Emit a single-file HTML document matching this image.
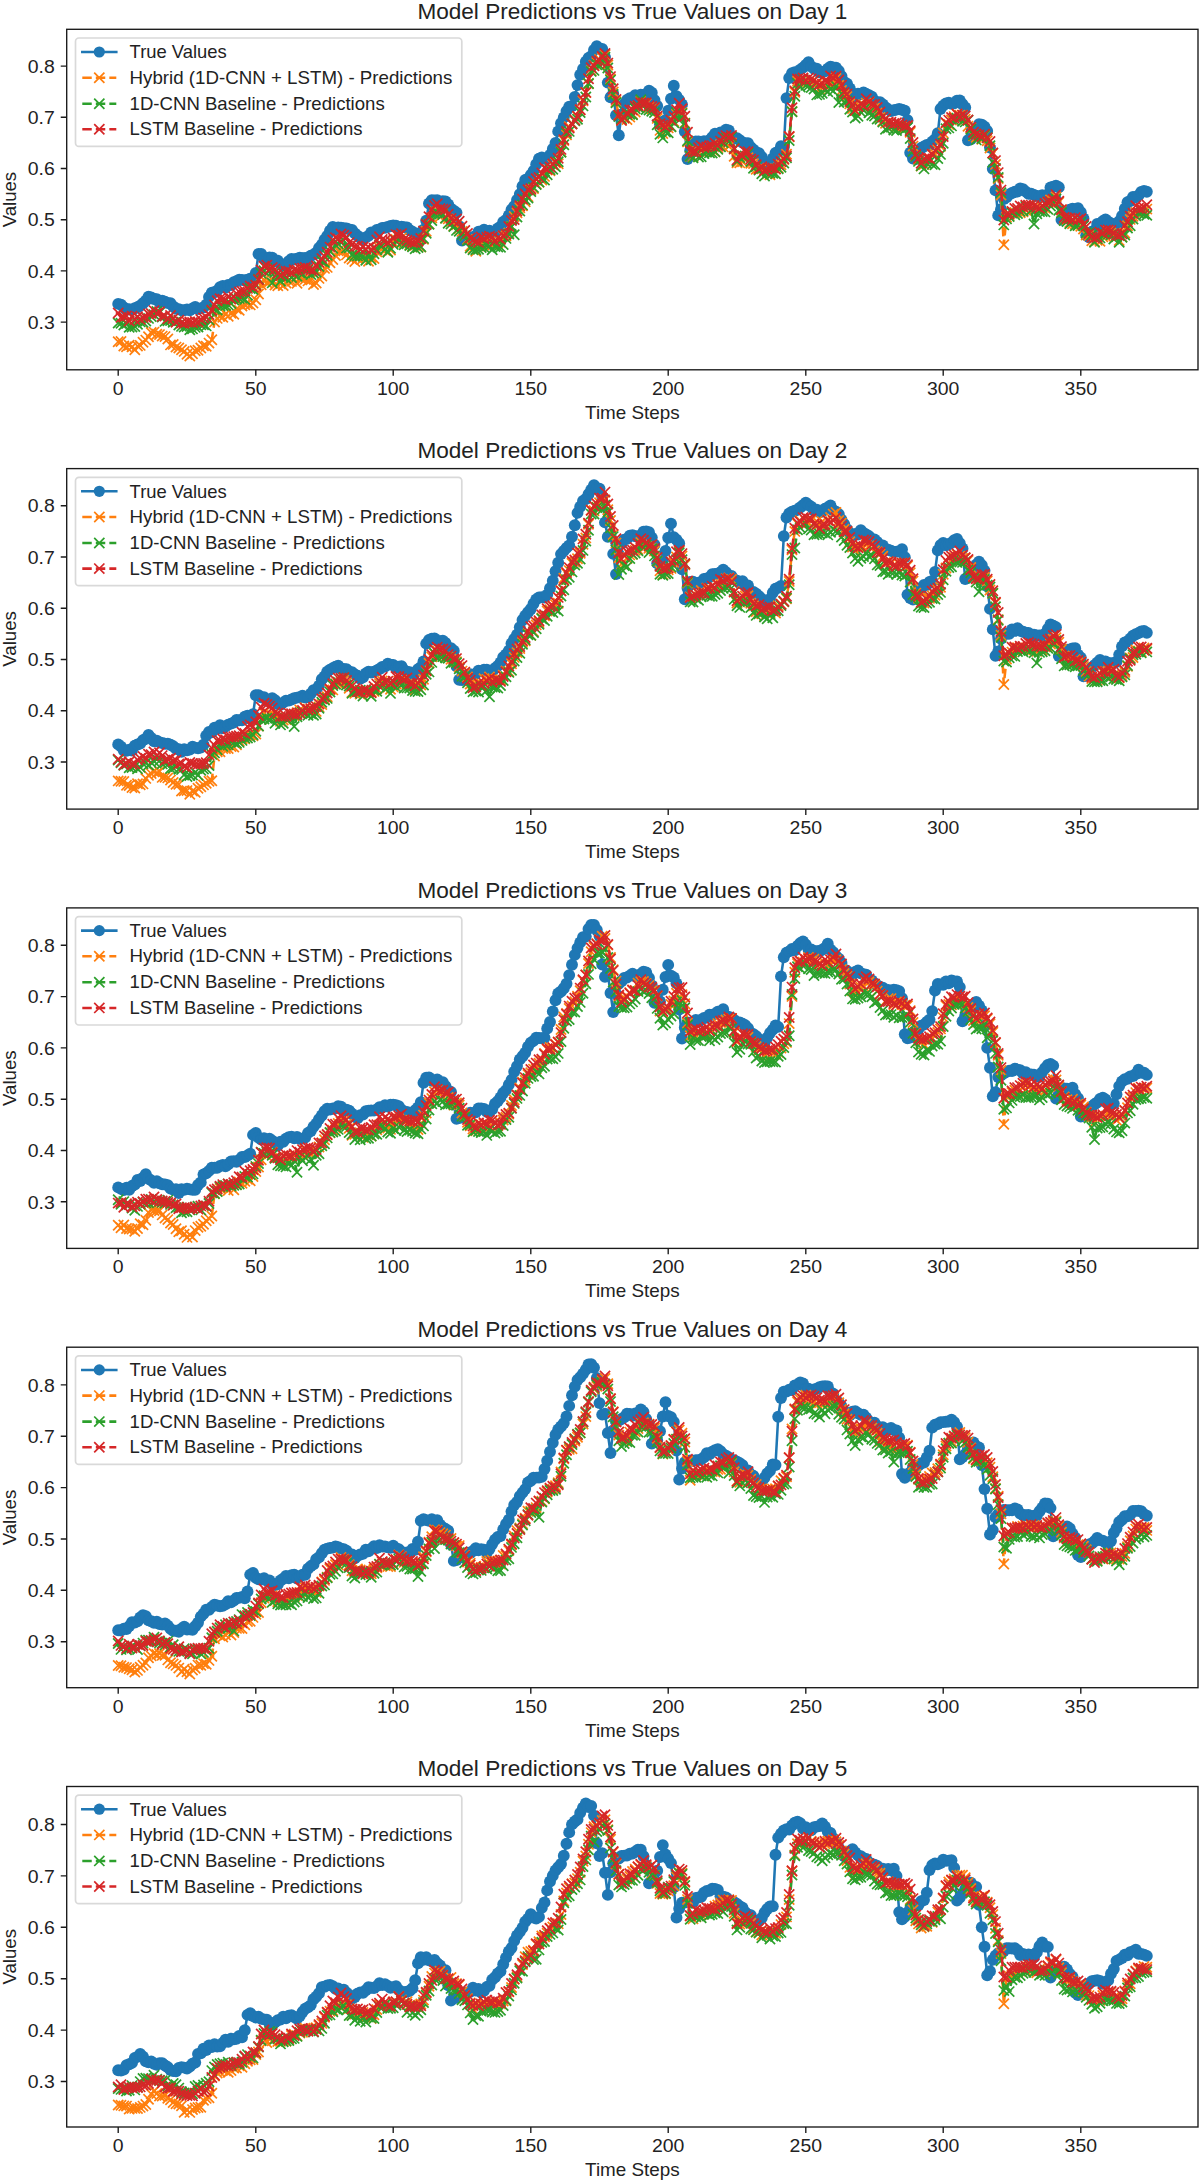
<!DOCTYPE html>
<html><head><meta charset="utf-8"><title>Model Predictions vs True Values</title>
<style>
html,body{margin:0;padding:0;background:#fff;}
svg{display:block;}
text{font-family:"Liberation Sans",sans-serif;fill:#222222;}
</style></head><body>
<svg width="1200" height="2181" viewBox="0 0 1200 2181">
<rect width="1200" height="2181" fill="#fff"/>
<defs>
<marker id="mb" markerUnits="userSpaceOnUse" markerWidth="14" markerHeight="14" refX="7" refY="7" overflow="visible"><circle cx="7" cy="7" r="5.95" fill="#1f77b4"/></marker>
<marker id="mo" markerUnits="userSpaceOnUse" markerWidth="12" markerHeight="12" refX="6" refY="6" overflow="visible"><path d="M0.9,0.9L11.1,11.1M0.9,11.1L11.1,0.9" stroke="#ff7f0e" stroke-width="1.7" fill="none"/></marker>
<marker id="mg" markerUnits="userSpaceOnUse" markerWidth="12" markerHeight="12" refX="6" refY="6" overflow="visible"><path d="M0.9,0.9L11.1,11.1M0.9,11.1L11.1,0.9" stroke="#2ca02c" stroke-width="1.7" fill="none"/></marker>
<marker id="mr" markerUnits="userSpaceOnUse" markerWidth="12" markerHeight="12" refX="6" refY="6" overflow="visible"><path d="M0.9,0.9L11.1,11.1M0.9,11.1L11.1,0.9" stroke="#d62728" stroke-width="1.7" fill="none"/></marker>
</defs>
<g>
<text x="632.4" y="19.1" font-size="21.2" text-anchor="middle" textLength="430.0" lengthAdjust="spacingAndGlyphs">Model Predictions vs True Values on Day 1</text>
<polyline points="118.2,303.9 121,304.6 123.8,307.5 126.5,309.7 129.2,309.3 132,309.7 134.8,308.2 137.5,307.2 140.2,305.8 143,303.2 145.8,300.8 148.5,296.6 151.2,297.5 154,299 156.8,299.3 159.5,302.3 162.2,300.7 165,301.7 167.8,303.1 170.5,303.3 173.2,306.5 176,308.8 178.8,309.1 181.5,310.3 184.2,310.3 187,309.4 189.8,310.3 192.5,308.5 195.2,307 198,309 200.8,308.4 203.5,307.5 206.2,304.6 209,296.9 211.8,292.8 214.5,292.3 217.2,290.8 220,287.3 222.8,285.9 225.5,287.7 228.2,284.9 231,285.1 233.8,282.1 236.5,281.2 239.2,279.7 242,279.9 244.8,280.5 247.5,279.6 250.2,278.6 253,277.7 255.8,273 258.5,254 261.2,253.9 264,257.8 266.8,259.5 269.5,257.5 272.2,257.8 275,261 277.8,260.8 280.5,263.8 283.2,265.5 286,265 288.8,261.1 291.5,259 294.2,259.5 297,258.8 299.8,257.8 302.5,258.2 305.2,258 308,259.6 310.8,255.7 313.5,254.6 316.2,252.8 319,247.9 321.8,244.8 324.5,239.7 327.2,236 330,230.8 332.8,227 335.5,229.2 338.2,227.5 341,227.6 343.8,228.3 346.5,228.4 349.2,229.4 352,230 354.8,233.4 357.5,235.8 360.2,237.8 363,239.9 365.8,237.4 368.5,235.9 371.2,232.4 374,232.9 376.8,230 379.5,229.4 382.2,227.9 385,227.7 387.8,227 390.5,226 393.2,225.5 396,225.6 398.8,228.3 401.5,226.8 404.2,227.3 407,227.5 409.8,230.3 412.5,231.6 415.2,234.3 418,233.8 420.8,232.9 423.5,229.8 426.2,220.7 429,203.5 431.8,200.2 434.5,200.5 437.2,200.2 440,202.3 442.8,201.2 445.5,201.5 448.2,204.5 451,208.8 453.8,210.8 456.5,212.8 459.2,226.2 462,240.5 464.8,238.8 467.5,238.1 470.2,238.5 473,237.3 475.8,235.8 478.5,231.7 481.2,231.7 484,229.6 486.8,232.1 489.5,230.6 492.2,233.4 495,231.6 497.8,228.5 500.5,226.8 503.2,222 506,220 508.8,215.4 511.5,209.8 514.2,206.1 517,200 519.8,194.1 522.5,186.2 525.2,179.9 528,178.7 530.8,174.9 533.5,170.9 536.2,164.2 539,158.6 541.8,157.4 544.5,158.7 547.2,159.1 550,155 552.8,149 555.5,142.9 558.2,131.4 561,123.2 563.8,117.4 566.5,111.1 569.2,106.6 572,106.1 574.8,97 577.5,85.1 580.2,74.8 583,69 585.8,61.7 588.5,57.9 591.2,56.1 594,49.9 596.8,46.1 599.5,48.7 602.2,48.9 605,57.1 607.8,82.6 610.5,97.2 613.2,93.8 616,115.3 618.8,135.2 621.5,114.5 624.2,104 627,100 629.8,98.2 632.5,99.3 635.2,95.2 638,97 640.8,94.8 643.5,94.9 646.2,94.2 649,90.6 651.8,92.8 654.5,100.1 657.2,106 660,124.3 662.8,121.6 665.5,120.2 668.2,110.7 671,98.7 673.8,85.7 676.5,96.2 679.2,99.9 682,104.4 684.8,131.6 687.5,159.1 690.2,150.5 693,142.4 695.8,141.4 698.5,141.5 701.2,143.3 704,141.1 706.8,141.8 709.5,140.3 712.2,137.1 715,133.7 717.8,134.4 720.5,132.5 723.2,133.3 726,129.8 728.8,130.4 731.5,136.1 734.2,138 737,138.2 739.8,140.2 742.5,142.5 745.2,143.1 748,143.3 750.8,147.1 753.5,149.7 756.2,152.3 759,153.3 761.8,156.9 764.5,162.1 767.2,164.6 770,164.6 772.8,158.4 775.5,153 778.2,151.7 781,146.3 783.8,147.3 786.5,98.1 789.2,78 792,73.2 794.8,72.2 797.5,72.1 800.2,69.6 803,67.6 805.8,65 808.5,62.3 811.2,66.5 814,68.9 816.8,68.8 819.5,72.2 822.2,71.9 825,71.4 827.8,68.8 830.5,66.7 833.2,67.5 836,67.8 838.8,71 841.5,76.1 844.2,82 847,83.6 849.8,88.5 852.5,93.4 855.2,97.5 858,93.7 860.8,94.3 863.5,92.5 866.2,94 869,95.2 871.8,96.6 874.5,100.6 877.2,103.1 880,102.3 882.8,104.4 885.5,107.5 888.2,109.4 891,111.1 893.8,110.2 896.5,109.6 899.2,108.9 902,109.7 904.8,110.7 907.5,120.3 910.2,152.8 913,158.5 915.8,159.1 918.5,153.6 921.2,148 924,146.5 926.8,144.9 929.5,145.2 932.2,141.6 935,139.1 937.8,133.3 940.5,109 943.2,105.6 946,103.4 948.8,102.7 951.5,103.9 954.2,103.2 957,100.8 959.8,100.4 962.5,104.2 965.2,107.4 968,140.2 970.8,139.2 973.5,135.9 976.2,128.5 979,124.2 981.8,124.8 984.5,126.8 987.2,131 990,147.5 992.8,168.8 995.5,190.4 998.2,215.4 1001,209.3 1003.8,199 1006.5,197.2 1009.2,194.5 1012,193 1014.8,191.8 1017.5,191.5 1020.2,188.5 1023,189.1 1025.8,191.6 1028.5,193.9 1031.2,193.8 1034,194.9 1036.8,195.9 1039.5,196.5 1042.2,195.3 1045,197.2 1047.8,194.4 1050.5,187.4 1053.2,186.7 1056,185.8 1058.8,187.3 1061.5,219.7 1064.2,215.6 1067,211.8 1069.8,209.6 1072.5,208.6 1075.2,209.5 1078,208.2 1080.8,212.2 1083.5,218.5 1086.2,235.4 1089,237.4 1091.8,231.8 1094.5,230.4 1097.2,224 1100,225.4 1102.8,221.3 1105.5,219.5 1108.2,221.6 1111,223.4 1113.8,224.1 1116.5,226.7 1119.2,221.2 1122,215.9 1124.8,208.8 1127.5,202.2 1130.2,201 1133,196.9 1135.8,197.4 1138.5,195.4 1141.2,192 1144,191 1146.8,191.7" fill="none" stroke="#1f77b4" stroke-width="2.55" stroke-linejoin="round" marker-start="url(#mb)" marker-mid="url(#mb)" marker-end="url(#mb)"/>
<polyline points="118.2,341.7 121,341.5 123.8,346 126.5,346.8 129.2,345.3 132,346.9 134.8,349.8 137.5,346.1 140.2,345.4 143,342.2 145.8,340.1 148.5,336.8 151.2,332.5 154,332.1 156.8,334.2 159.5,334.6 162.2,336.1 165,336.6 167.8,339 170.5,344.9 173.2,344.4 176,347.1 178.8,348 181.5,349.8 184.2,351.4 187,354.3 189.8,356.1 192.5,353.7 195.2,350.8 198,350.2 200.8,348 203.5,345.8 206.2,346.3 209,343.1 211.8,339.8 214.5,322 217.2,318.4 220,316.2 222.8,317.3 225.5,313.9 228.2,316.2 231,313.3 233.8,314.3 236.5,309 239.2,310.3 242,306.1 244.8,304.7 247.5,304 250.2,304.9 253,303.1 255.8,299.8 258.5,294 261.2,284.7 264,279.9 266.8,282.8 269.5,281.8 272.2,280.1 275,285 277.8,285.7 280.5,283.7 283.2,285.5 286,283 288.8,280.9 291.5,281.4 294.2,279.9 297,283.3 299.8,277.9 302.5,278.9 305.2,279.3 308,280.9 310.8,279.9 313.5,284.5 316.2,283.1 319,278.4 321.8,276 324.5,268.4 327.2,267.4 330,262.8 332.8,259.5 335.5,255.6 338.2,250.9 341,251.6 343.8,250.7 346.5,254.9 349.2,258.1 352,259.3 354.8,261.5 357.5,258.2 360.2,256.9 363,258.5 365.8,257.7 368.5,261.2 371.2,257.4 374,258.6 376.8,251.9 379.5,247.7 382.2,248.7 385,250.4 387.8,251.4 390.5,250.1 393.2,242.3 396,239.4 398.8,235.7 401.5,237.9 404.2,242.6 407,242.4 409.8,244.7 412.5,246 415.2,245.2 418,247 420.8,247 423.5,239.3 426.2,231.3 429,224.1 431.8,217.9 434.5,211.3 437.2,211.6 440,216.9 442.8,214.3 445.5,218 448.2,218.9 451,221.4 453.8,226.1 456.5,224.9 459.2,228.6 462,231.4 464.8,235.8 467.5,239.5 470.2,246.3 473,248.4 475.8,251.2 478.5,246 481.2,246.6 484,245.1 486.8,243.9 489.5,241.8 492.2,244.4 495,243.5 497.8,243.3 500.5,242.2 503.2,235.9 506,235.7 508.8,232.9 511.5,226.5 514.2,216.5 517,212.9 519.8,207.8 522.5,205.7 525.2,201.7 528,196.8 530.8,189.9 533.5,188.6 536.2,184 539,182.3 541.8,180 544.5,176.4 547.2,170.1 550,170.8 552.8,164.9 555.5,162.8 558.2,163.7 561,151.9 563.8,140.6 566.5,134.9 569.2,126.8 572,123.4 574.8,120.3 577.5,116.5 580.2,109.8 583,100.9 585.8,92.5 588.5,83.7 591.2,70.8 594,65.3 596.8,62.4 599.5,59.5 602.2,57.5 605,54.7 607.8,65 610.5,78.9 613.2,91.9 616,101.7 618.8,115.1 621.5,120.4 624.2,118.2 627,119.6 629.8,117.1 632.5,114.1 635.2,112 638,106.1 640.8,101.4 643.5,103.5 646.2,103.7 649,107.3 651.8,109.1 654.5,108.1 657.2,118.4 660,130.4 662.8,133.6 665.5,130.7 668.2,127.9 671,126.5 673.8,121.4 676.5,114.3 679.2,112.4 682,112.8 684.8,123.1 687.5,141.7 690.2,156.4 693,156.9 695.8,154.5 698.5,151.5 701.2,150.4 704,151.7 706.8,150.7 709.5,151.2 712.2,149.7 715,151.8 717.8,147.7 720.5,144.7 723.2,146.9 726,143.4 728.8,146.4 731.5,142.9 734.2,156.3 737,162.7 739.8,162.9 742.5,161.7 745.2,159.3 748,157.7 750.8,163.3 753.5,163.6 756.2,169.3 759,168.2 761.8,168.8 764.5,170.5 767.2,173.9 770,174.8 772.8,171.3 775.5,168.8 778.2,168 781,164.7 783.8,159.5 786.5,154.2 789.2,136.8 792,111.5 794.8,92.3 797.5,81.3 800.2,81.4 803,82.8 805.8,82.2 808.5,82.6 811.2,82.5 814,84.2 816.8,83.3 819.5,88.9 822.2,88 825,85.1 827.8,83.8 830.5,84.8 833.2,84.8 836,78.4 838.8,85.2 841.5,90.5 844.2,94.6 847,96.6 849.8,103.9 852.5,108.5 855.2,110.5 858,106.7 860.8,106.7 863.5,104.6 866.2,103.1 869,101.9 871.8,107.9 874.5,108.1 877.2,112.9 880,117.4 882.8,121.1 885.5,123.2 888.2,127.6 891,126.3 893.8,124.7 896.5,127.1 899.2,127.4 902,127.6 904.8,127.7 907.5,126.4 910.2,132.3 913,146.1 915.8,156.1 918.5,159.3 921.2,166 924,164.6 926.8,163.4 929.5,158.6 932.2,154.4 935,153.9 937.8,149.8 940.5,146.2 943.2,133 946,123.1 948.8,124.5 951.5,120 954.2,116.6 957,114.3 959.8,115.3 962.5,115.2 965.2,119.2 968,126.3 970.8,128 973.5,135.7 976.2,137.3 979,136.8 981.8,139.2 984.5,135.5 987.2,140.7 990,148 992.8,153.3 995.5,164.4 998.2,178.6 1001,195 1003.8,244.7 1006.5,217.2 1009.2,215.5 1012,212 1014.8,212.5 1017.5,210.6 1020.2,212.7 1023,211.8 1025.8,210.3 1028.5,207.6 1031.2,210.1 1034,209.5 1036.8,206.7 1039.5,209.3 1042.2,208.3 1045,208.1 1047.8,202.5 1050.5,199.9 1053.2,200.2 1056,196.9 1058.8,202.3 1061.5,210.1 1064.2,220 1067,219.6 1069.8,222.6 1072.5,223.8 1075.2,223.9 1078,225.2 1080.8,226.2 1083.5,229.1 1086.2,235 1089,235.6 1091.8,240.8 1094.5,241.5 1097.2,240.2 1100,241.2 1102.8,236.7 1105.5,236.3 1108.2,231.3 1111,233.2 1113.8,234 1116.5,236.7 1119.2,240.6 1122,237.1 1124.8,233 1127.5,225.7 1130.2,219.4 1133,216.2 1135.8,212.4 1138.5,212.5 1141.2,208.9 1144,210.7 1146.8,209.1" fill="none" stroke="#ff7f0e" stroke-width="2.55" stroke-dasharray="9.44 4.08" stroke-linejoin="round" marker-start="url(#mo)" marker-mid="url(#mo)" marker-end="url(#mo)"/>
<polyline points="118.2,323 121,323.3 123.8,325 126.5,323.4 129.2,327.3 132,327 134.8,326.6 137.5,324.3 140.2,321.9 143,322.2 145.8,321.1 148.5,318.4 151.2,316.5 154,314.6 156.8,311.4 159.5,312.7 162.2,317.1 165,321.4 167.8,320.8 170.5,320.6 173.2,322.3 176,321.6 178.8,325 181.5,326.4 184.2,327.1 187,326.5 189.8,329.8 192.5,328.9 195.2,327.4 198,327 200.8,324.7 203.5,324.8 206.2,325.9 209,319.9 211.8,311.4 214.5,309.2 217.2,310.1 220,306 222.8,305.5 225.5,305.6 228.2,304.9 231,303.6 233.8,300.1 236.5,298.9 239.2,298.4 242,298 244.8,299.4 247.5,295.2 250.2,288.5 253,289.5 255.8,285.1 258.5,279.3 261.2,273.4 264,270.8 266.8,268.4 269.5,271 272.2,282.9 275,272.4 277.8,276.4 280.5,281.2 283.2,277 286,278.2 288.8,274.7 291.5,277.6 294.2,274.6 297,276.3 299.8,272.9 302.5,274 305.2,269.3 308,270 310.8,274.5 313.5,273 316.2,272.2 319,266.5 321.8,261.3 324.5,262.5 327.2,255.3 330,251.4 332.8,248.2 335.5,244.9 338.2,243.7 341,241.8 343.8,240.4 346.5,247.9 349.2,247.8 352,255.1 354.8,255.8 357.5,255.9 360.2,255.7 363,256.2 365.8,260.2 368.5,254.4 371.2,259.7 374,253.7 376.8,249.7 379.5,244.7 382.2,245.8 385,249.2 387.8,252.2 390.5,248.3 393.2,244.4 396,241.4 398.8,240 401.5,242.7 404.2,244.7 407,243.9 409.8,245.5 412.5,246.8 415.2,248.8 418,247.6 420.8,246.7 423.5,238.4 426.2,233.2 429,224.2 431.8,220.6 434.5,213.5 437.2,212.8 440,214 442.8,214.6 445.5,218.2 448.2,223.2 451,224.1 453.8,226.6 456.5,230.4 459.2,231.3 462,234.4 464.8,235.8 467.5,240.5 470.2,248 473,249.7 475.8,249.8 478.5,249.2 481.2,247.6 484,247.4 486.8,245.5 489.5,245.8 492.2,249.7 495,246.5 497.8,247.1 500.5,247.3 503.2,244.6 506,238.4 508.8,234.1 511.5,226.8 514.2,234.8 517,217 519.8,211 522.5,204.9 525.2,199.7 528,198.1 530.8,191.6 533.5,187.4 536.2,184.6 539,182.1 541.8,178.2 544.5,180 547.2,174.8 550,169.7 552.8,169.3 555.5,166.7 558.2,161.7 561,152.2 563.8,144.7 566.5,133.2 569.2,131.4 572,123.7 574.8,120.8 577.5,119.3 580.2,112.6 583,105.9 585.8,97 588.5,83.5 591.2,71.4 594,70.4 596.8,64.8 599.5,65.2 602.2,63.8 605,57.2 607.8,68 610.5,80.1 613.2,94.5 616,102.8 618.8,116.5 621.5,118.8 624.2,117.4 627,114.7 629.8,114.2 632.5,114.7 635.2,108.7 638,107.2 640.8,99.7 643.5,104.6 646.2,109.5 649,110 651.8,111.2 654.5,112.5 657.2,124.8 660,134.2 662.8,137.9 665.5,132.1 668.2,132.7 671,126.7 673.8,122.8 676.5,112.5 679.2,120.1 682,113.6 684.8,123.4 687.5,140.8 690.2,156.1 693,157.9 695.8,154.5 698.5,157.1 701.2,156.7 704,153.5 706.8,152.1 709.5,152.9 712.2,153 715,151.8 717.8,149.3 720.5,146.9 723.2,142.8 726,138.1 728.8,141.8 731.5,136.8 734.2,148.2 737,161.3 739.8,157.8 742.5,156.5 745.2,156 748,153.3 750.8,161.5 753.5,168.2 756.2,166.5 759,170.1 761.8,173.7 764.5,176.1 767.2,171.2 770,173.1 772.8,173.3 775.5,173.8 778.2,168.7 781,167.3 783.8,163 786.5,157.7 789.2,140.5 792,111.7 794.8,96.2 797.5,83.5 800.2,87.1 803,78.8 805.8,85.4 808.5,85.8 811.2,87.5 814,89.1 816.8,94.9 819.5,94.4 822.2,93.2 825,89.8 827.8,91.7 830.5,88.8 833.2,90.9 836,86 838.8,102.5 841.5,93.6 844.2,102 847,101 849.8,109.2 852.5,112 855.2,118 858,116.2 860.8,112 863.5,110.3 866.2,107.1 869,112.7 871.8,115.3 874.5,116.1 877.2,119 880,119.3 882.8,122.1 885.5,129.3 888.2,128.1 891,127 893.8,130 896.5,130.5 899.2,126.5 902,129.1 904.8,129.5 907.5,127.5 910.2,138.6 913,151.2 915.8,156.4 918.5,161.4 921.2,165.7 924,168.9 926.8,163.3 929.5,162 932.2,164.4 935,164.7 937.8,158.6 940.5,154.4 943.2,143.2 946,128.7 948.8,127.9 951.5,125.9 954.2,120.4 957,118.3 959.8,118.7 962.5,121.2 965.2,121.9 968,120.3 970.8,129.3 973.5,135.1 976.2,139.9 979,136.7 981.8,138.5 984.5,135.2 987.2,137.6 990,145.8 992.8,162.2 995.5,168.5 998.2,177.4 1001,192.7 1003.8,224.9 1006.5,218.9 1009.2,216.6 1012,213.1 1014.8,214.7 1017.5,213.5 1020.2,211.4 1023,210.9 1025.8,206.5 1028.5,206.2 1031.2,210.2 1034,224 1036.8,213.8 1039.5,211.6 1042.2,211.5 1045,211.9 1047.8,209.2 1050.5,206 1053.2,203.4 1056,198.9 1058.8,210.2 1061.5,212.8 1064.2,220.5 1067,221.5 1069.8,223.7 1072.5,221 1075.2,225.8 1078,225.6 1080.8,222.3 1083.5,225.8 1086.2,232.8 1089,233 1091.8,234.8 1094.5,242.2 1097.2,238.8 1100,237.9 1102.8,234 1105.5,234.1 1108.2,234.2 1111,234.9 1113.8,239.1 1116.5,236.6 1119.2,242.2 1122,237.2 1124.8,235 1127.5,228 1130.2,225.7 1133,219 1135.8,215.7 1138.5,212.9 1141.2,213 1144,214.3 1146.8,215.2" fill="none" stroke="#2ca02c" stroke-width="2.55" stroke-dasharray="9.44 4.08" stroke-linejoin="round" marker-start="url(#mg)" marker-mid="url(#mg)" marker-end="url(#mg)"/>
<polyline points="118.2,313 121,317.4 123.8,317 126.5,315.9 129.2,321 132,316.3 134.8,319.6 137.5,316.8 140.2,319.2 143,317.4 145.8,317.4 148.5,313.9 151.2,313.4 154,310.6 156.8,313.5 159.5,311.8 162.2,316.4 165,316 167.8,318.7 170.5,315.4 173.2,318.6 176,322.3 178.8,320.3 181.5,323 184.2,323.4 187,322.1 189.8,321.9 192.5,322.5 195.2,321.4 198,322.1 200.8,319.5 203.5,317.9 206.2,317.1 209,314.5 211.8,310.2 214.5,304.9 217.2,300.8 220,298.7 222.8,299.1 225.5,300 228.2,296.6 231,299.1 233.8,296.9 236.5,293.5 239.2,291.9 242,291.2 244.8,291.1 247.5,288.4 250.2,285.9 253,287.1 255.8,285.2 258.5,279.8 261.2,270 264,266.2 266.8,265.1 269.5,269.2 272.2,267.4 275,269.3 277.8,273.3 280.5,275.8 283.2,273.8 286,271.2 288.8,271.2 291.5,272.4 294.2,269.8 297,270 299.8,268.5 302.5,268.2 305.2,267.4 308,268.7 310.8,270.1 313.5,270.4 316.2,265.7 319,262.2 321.8,258.6 324.5,256.3 327.2,252.2 330,247.1 332.8,240.1 335.5,237.6 338.2,239 341,234 343.8,235.3 346.5,237 349.2,242.6 352,244.5 354.8,246.3 357.5,246.2 360.2,249.3 363,247 365.8,248.9 368.5,247.1 371.2,249.8 374,248.2 376.8,240 379.5,236.8 382.2,239.5 385,240.3 387.8,242.5 390.5,241.1 393.2,237.9 396,234.6 398.8,235.3 401.5,233.6 404.2,239.2 407,240.3 409.8,241.4 412.5,242.5 415.2,242.2 418,241.2 420.8,238.5 423.5,231.1 426.2,224.4 429,216.8 431.8,209.4 434.5,205.6 437.2,203.7 440,208.7 442.8,209.1 445.5,209.6 448.2,214.2 451,218.4 453.8,221.1 456.5,219 459.2,221.2 462,226.3 464.8,230.5 467.5,233.4 470.2,237.9 473,240 475.8,241.3 478.5,242.4 481.2,237 484,238.7 486.8,237.3 489.5,236.1 492.2,237.1 495,241.4 497.8,237.6 500.5,239.3 503.2,235.6 506,234.1 508.8,226.4 511.5,220.6 514.2,219.5 517,211 519.8,205.8 522.5,199.1 525.2,193.9 528,189.8 530.8,188.8 533.5,181.6 536.2,178.8 539,177.4 541.8,172.9 544.5,167.7 547.2,169.4 550,167 552.8,164 555.5,161.9 558.2,158.3 561,149.4 563.8,139.6 566.5,131.4 569.2,128 572,124 574.8,119.9 577.5,116.2 580.2,109.7 583,99.7 585.8,92.4 588.5,78.7 591.2,67.8 594,65.9 596.8,61.1 599.5,60.6 602.2,56.5 605,53.5 607.8,63.1 610.5,76.6 613.2,88.8 616,99.4 618.8,115.3 621.5,120.2 624.2,117.8 627,113.3 629.8,109.9 632.5,110 635.2,106.3 638,105.5 640.8,102.7 643.5,103 646.2,102.7 649,105.7 651.8,106.4 654.5,107.5 657.2,116.3 660,123.7 662.8,124.9 665.5,126.8 668.2,125 671,120.1 673.8,116.5 676.5,109.8 679.2,103.3 682,108.8 684.8,116.3 687.5,132.3 690.2,151.1 693,151.7 695.8,151.8 698.5,147.8 701.2,145.8 704,147.6 706.8,146.9 709.5,146 712.2,145.7 715,143.2 717.8,145.5 720.5,141.1 723.2,137.3 726,135.6 728.8,137.2 731.5,135.4 734.2,149 737,159.9 739.8,154.4 742.5,155.7 745.2,151.4 748,151.8 750.8,159 753.5,160.1 756.2,164.7 759,168.9 761.8,166.7 764.5,170.8 767.2,169.1 770,168 772.8,167.9 775.5,169.1 778.2,164.3 781,161.7 783.8,158.8 786.5,156.3 789.2,136.4 792,107.8 794.8,90.9 797.5,79 800.2,79.2 803,78 805.8,80.4 808.5,78.1 811.2,79 814,80.3 816.8,82.7 819.5,84.8 822.2,84.1 825,80.5 827.8,81.2 830.5,75.9 833.2,77.8 836,76.2 838.8,80 841.5,85.3 844.2,92.4 847,94 849.8,101.6 852.5,105.3 855.2,110.4 858,106.5 860.8,104.1 863.5,105.7 866.2,98.8 869,101.7 871.8,104.5 874.5,104.5 877.2,107.5 880,112 882.8,117.1 885.5,118.9 888.2,122.1 891,122.2 893.8,123.5 896.5,122.7 899.2,123.4 902,124.9 904.8,125.9 907.5,125.5 910.2,130.8 913,142.5 915.8,154.5 918.5,158.2 921.2,163.2 924,159 926.8,157.5 929.5,158.5 932.2,154.2 935,150.5 937.8,148.1 940.5,144.1 943.2,136.6 946,122.6 948.8,120.1 951.5,117.4 954.2,118 957,114 959.8,116.4 962.5,115.1 965.2,116 968,120 970.8,127.2 973.5,132.3 976.2,134 979,135 981.8,136.6 984.5,134.1 987.2,137.9 990,141.5 992.8,152.9 995.5,160.6 998.2,172.6 1001,190.1 1003.8,220.1 1006.5,214.1 1009.2,213.9 1012,211.4 1014.8,208.5 1017.5,208.4 1020.2,206 1023,206.9 1025.8,205.2 1028.5,205.2 1031.2,205.1 1034,205.6 1036.8,206.9 1039.5,208.3 1042.2,205.9 1045,203.5 1047.8,201.9 1050.5,201.6 1053.2,199.2 1056,194.6 1058.8,201.3 1061.5,209.6 1064.2,217.4 1067,218.5 1069.8,218.3 1072.5,219.5 1075.2,217.7 1078,219.8 1080.8,218.8 1083.5,224.2 1086.2,226.4 1089,233.6 1091.8,237.1 1094.5,237.9 1097.2,237.3 1100,232.1 1102.8,233.3 1105.5,230.1 1108.2,230 1111,230.5 1113.8,233.8 1116.5,235.1 1119.2,235.5 1122,233.9 1124.8,225.6 1127.5,221.7 1130.2,216.2 1133,213.3 1135.8,205.8 1138.5,208.3 1141.2,208.4 1144,207.8 1146.8,204.8" fill="none" stroke="#d62728" stroke-width="2.55" stroke-dasharray="9.44 4.08" stroke-linejoin="round" marker-start="url(#mr)" marker-mid="url(#mr)" marker-end="url(#mr)"/>
<rect x="66.7" y="29.3" width="1131.3" height="340.5" fill="none" stroke="#1a1a1a" stroke-width="1.36"/>
<text x="118.2" y="394.8" font-size="18.0" text-anchor="middle" textLength="10.8" lengthAdjust="spacingAndGlyphs">0</text>
<text x="255.8" y="394.8" font-size="18.0" text-anchor="middle" textLength="21.6" lengthAdjust="spacingAndGlyphs">50</text>
<text x="393.2" y="394.8" font-size="18.0" text-anchor="middle" textLength="32.4" lengthAdjust="spacingAndGlyphs">100</text>
<text x="530.8" y="394.8" font-size="18.0" text-anchor="middle" textLength="32.4" lengthAdjust="spacingAndGlyphs">150</text>
<text x="668.2" y="394.8" font-size="18.0" text-anchor="middle" textLength="32.4" lengthAdjust="spacingAndGlyphs">200</text>
<text x="805.8" y="394.8" font-size="18.0" text-anchor="middle" textLength="32.4" lengthAdjust="spacingAndGlyphs">250</text>
<text x="943.2" y="394.8" font-size="18.0" text-anchor="middle" textLength="32.4" lengthAdjust="spacingAndGlyphs">300</text>
<text x="1080.8" y="394.8" font-size="18.0" text-anchor="middle" textLength="32.4" lengthAdjust="spacingAndGlyphs">350</text>
<text x="54.8" y="72.8" font-size="18.0" text-anchor="end" textLength="27.0" lengthAdjust="spacingAndGlyphs">0.8</text>
<text x="54.8" y="124" font-size="18.0" text-anchor="end" textLength="27.0" lengthAdjust="spacingAndGlyphs">0.7</text>
<text x="54.8" y="175.2" font-size="18.0" text-anchor="end" textLength="27.0" lengthAdjust="spacingAndGlyphs">0.6</text>
<text x="54.8" y="226.4" font-size="18.0" text-anchor="end" textLength="27.0" lengthAdjust="spacingAndGlyphs">0.5</text>
<text x="54.8" y="277.6" font-size="18.0" text-anchor="end" textLength="27.0" lengthAdjust="spacingAndGlyphs">0.4</text>
<text x="54.8" y="328.8" font-size="18.0" text-anchor="end" textLength="27.0" lengthAdjust="spacingAndGlyphs">0.3</text>
<path d="M118.2,369.8v5.95M255.8,369.8v5.95M393.2,369.8v5.95M530.8,369.8v5.95M668.2,369.8v5.95M805.8,369.8v5.95M943.2,369.8v5.95M1080.8,369.8v5.95M66.7,66.1h-5.95M66.7,117.3h-5.95M66.7,168.5h-5.95M66.7,219.7h-5.95M66.7,270.9h-5.95M66.7,322.1h-5.95" stroke="#1a1a1a" stroke-width="1.36" fill="none"/>
<text x="632.4" y="418.8" font-size="17.8" text-anchor="middle" textLength="94.6" lengthAdjust="spacingAndGlyphs">Time Steps</text>
<text x="16" y="199.6" font-size="17.8" text-anchor="middle" textLength="55.5" lengthAdjust="spacingAndGlyphs" transform="rotate(-90 16 199.6)">Values</text>
<rect x="75.5" y="38" width="386.3" height="108.4" rx="3.4" fill="#fff" fill-opacity="0.8" stroke="#d9d9d9" stroke-width="1.7"/>
<path d="M82.3,52H116.3" stroke="#1f77b4" stroke-width="2.55" stroke-linecap="square"/>
<circle cx="99.3" cy="52" r="5.6" fill="#1f77b4"/>
<text x="129.6" y="58.3" font-size="17.8" textLength="97.1" lengthAdjust="spacingAndGlyphs">True Values</text>
<path d="M82.3,77.7H116.3" stroke="#ff7f0e" stroke-width="2.55" stroke-dasharray="9.44 4.08"/>
<path d="M94.2,72.6l10.2,10.2m0,-10.2l-10.2,10.2" stroke="#ff7f0e" stroke-width="1.7"/>
<text x="129.6" y="83.7" font-size="17.8" textLength="322.8" lengthAdjust="spacingAndGlyphs">Hybrid (1D-CNN + LSTM) - Predictions</text>
<path d="M82.3,103.7H116.3" stroke="#2ca02c" stroke-width="2.55" stroke-dasharray="9.44 4.08"/>
<path d="M94.2,98.6l10.2,10.2m0,-10.2l-10.2,10.2" stroke="#2ca02c" stroke-width="1.7"/>
<text x="129.6" y="109.7" font-size="17.8" textLength="255.1" lengthAdjust="spacingAndGlyphs">1D-CNN Baseline - Predictions</text>
<path d="M82.3,129.3H116.3" stroke="#d62728" stroke-width="2.55" stroke-dasharray="9.44 4.08"/>
<path d="M94.2,124.2l10.2,10.2m0,-10.2l-10.2,10.2" stroke="#d62728" stroke-width="1.7"/>
<text x="129.6" y="135.3" font-size="17.8" textLength="233.0" lengthAdjust="spacingAndGlyphs">LSTM Baseline - Predictions</text>
</g>
<g>
<text x="632.4" y="458.4" font-size="21.2" text-anchor="middle" textLength="430.0" lengthAdjust="spacingAndGlyphs">Model Predictions vs True Values on Day 2</text>
<polyline points="118.2,744.4 121,746.6 123.8,750.5 126.5,750.7 129.2,749.8 132,750.5 134.8,745.8 137.5,744.5 140.2,743.5 143,740.1 145.8,738.7 148.5,735 151.2,738 154,741.3 156.8,740.7 159.5,742.4 162.2,743 165,743.8 167.8,743.6 170.5,744.7 173.2,746.3 176,748.8 178.8,749.3 181.5,751.8 184.2,749.3 187,750.2 189.8,749.6 192.5,746.8 195.2,747.6 198,748.4 200.8,747.5 203.5,744.7 206.2,735.6 209,732 211.8,732.3 214.5,727.6 217.2,728.9 220,725.2 222.8,728.3 225.5,726.5 228.2,724.6 231,723.6 233.8,722.5 236.5,719.9 239.2,720.3 242,720.4 244.8,716.8 247.5,715.8 250.2,718.8 253,714.1 255.8,695.3 258.5,695.2 261.2,697.3 264,697.1 266.8,700.5 269.5,700.5 272.2,698.3 275,700.2 277.8,704 280.5,704.7 283.2,702.6 286,700.6 288.8,700.6 291.5,699.5 294.2,698.3 297,697.6 299.8,697.2 302.5,695.7 305.2,697.5 308,697.4 310.8,693.6 313.5,690.2 316.2,689.4 319,685.7 321.8,679.2 324.5,676.5 327.2,671.8 330,669.6 332.8,668.1 335.5,666.7 338.2,665.7 341,668.7 343.8,668.9 346.5,669.2 349.2,671.6 352,672.3 354.8,674.4 357.5,675.8 360.2,678.7 363,677.2 365.8,673.4 368.5,671.7 371.2,672.5 374,671.7 376.8,670.4 379.5,669 382.2,667 385,666.5 387.8,663.7 390.5,664.6 393.2,664.9 396,668.1 398.8,666.6 401.5,666.1 404.2,670.3 407,671.6 409.8,672.1 412.5,676.3 415.2,672.5 418,669.2 420.8,667.3 423.5,661.4 426.2,643.6 429,640 431.8,638.6 434.5,638.4 437.2,640.9 440,641.3 442.8,640.6 445.5,643 448.2,647.7 451,648.3 453.8,650.8 456.5,666.2 459.2,679.7 462,680.1 464.8,677.9 467.5,674.9 470.2,674.1 473,675 475.8,673.7 478.5,670.6 481.2,670.9 484,669.7 486.8,669.6 489.5,671.3 492.2,671.8 495,668.3 497.8,665.9 500.5,662.5 503.2,657.1 506,654.5 508.8,650.8 511.5,643.5 514.2,639 517,634.7 519.8,627.2 522.5,620 525.2,615.7 528,612.3 530.8,609 533.5,603.8 536.2,599.4 539,597.5 541.8,597.2 544.5,597.5 547.2,594.8 550,588.2 552.8,580.7 555.5,571.2 558.2,562.8 561,554.1 563.8,550.9 566.5,547.9 569.2,545.4 572,536.8 574.8,525.2 577.5,512.9 580.2,506.8 583,501 585.8,499 588.5,494.3 591.2,489.7 594,485.2 596.8,488.3 599.5,488.6 602.2,496.1 605,522.4 607.8,536.7 610.5,535 613.2,553.9 616,574.1 618.8,554.3 621.5,543.5 624.2,539.6 627,538.9 629.8,535.8 632.5,535.1 635.2,536.2 638,536.1 640.8,536.6 643.5,531.6 646.2,531.4 649,532.3 651.8,537.6 654.5,544.7 657.2,563.2 660,562.5 662.8,560.6 665.5,550.9 668.2,537.8 671,523.6 673.8,537.3 676.5,539.8 679.2,543.2 682,569.4 684.8,599.2 687.5,588 690.2,582 693,581.7 695.8,583.4 698.5,582.7 701.2,582.9 704,578.9 706.8,578.5 709.5,577.4 712.2,574.1 715,573.9 717.8,573.7 720.5,572.3 723.2,569.8 726,572.2 728.8,577.4 731.5,575.9 734.2,579.4 737,580.7 739.8,583 742.5,581.1 745.2,585.7 748,585.5 750.8,591.4 753.5,591.9 756.2,593.6 759,596.2 761.8,599 764.5,602.9 767.2,603.8 770,598.9 772.8,592.7 775.5,588.8 778.2,587.8 781,586 783.8,536.1 786.5,517.5 789.2,513.5 792,511.7 794.8,510.7 797.5,509.7 800.2,507.5 803,505.3 805.8,502.6 808.5,505 811.2,506.7 814,510.5 816.8,509.8 819.5,512.3 822.2,511.5 825,508.8 827.8,507.5 830.5,505.4 833.2,510.3 836,511.8 838.8,514.1 841.5,519.6 844.2,524.1 847,529.2 849.8,533.2 852.5,535.3 855.2,533.9 858,534.5 860.8,530.3 863.5,532.9 866.2,534.5 869,536.3 871.8,539.1 874.5,539.4 877.2,542 880,545.4 882.8,545.5 885.5,549.6 888.2,549.7 891,550.7 893.8,551.9 896.5,551.6 899.2,551.5 902,549.3 904.8,557.2 907.5,594.6 910.2,598 913,599.6 915.8,594.2 918.5,588.7 921.2,589 924,585 926.8,585.1 929.5,582 932.2,581 935,571.9 937.8,550.4 940.5,545.2 943.2,543 946,545.3 948.8,544.2 951.5,542.8 954.2,540.1 957,539 959.8,543.2 962.5,548.5 965.2,579 968,577.9 970.8,575.6 973.5,570 976.2,564.6 979,561.8 981.8,565.1 984.5,570.7 987.2,586 990,608.9 992.8,629.4 995.5,655.9 998.2,651.5 1001,638.8 1003.8,634.1 1006.5,633.8 1009.2,633.8 1012,629.4 1014.8,630.9 1017.5,628.1 1020.2,630.8 1023,631.7 1025.8,632.7 1028.5,633 1031.2,636.3 1034,634.7 1036.8,635.4 1039.5,635.5 1042.2,636.7 1045,633.8 1047.8,629 1050.5,624.4 1053.2,625.6 1056,627.2 1058.8,656.1 1061.5,653 1064.2,651.9 1067,649.8 1069.8,649.5 1072.5,648.4 1075.2,648.3 1078,654.7 1080.8,657.8 1083.5,676.2 1086.2,675.5 1089,673.4 1091.8,667.4 1094.5,665.2 1097.2,662.6 1100,660 1102.8,661.7 1105.5,661.4 1108.2,663.1 1111,663.3 1113.8,663.1 1116.5,661.8 1119.2,654.6 1122,646.4 1124.8,642.5 1127.5,641.5 1130.2,638.8 1133,635.8 1135.8,634.2 1138.5,633.1 1141.2,631.5 1144,631 1146.8,632.7" fill="none" stroke="#1f77b4" stroke-width="2.55" stroke-linejoin="round" marker-start="url(#mb)" marker-mid="url(#mb)" marker-end="url(#mb)"/>
<polyline points="118.2,780.9 121,781.2 123.8,781.4 126.5,785.3 129.2,785.5 132,787.6 134.8,788 137.5,783.8 140.2,784.7 143,783.9 145.8,778.4 148.5,775.2 151.2,773.6 154,771.8 156.8,772.9 159.5,771.5 162.2,777.4 165,777.2 167.8,777.9 170.5,780.1 173.2,782.5 176,784.3 178.8,784.2 181.5,791.1 184.2,790.7 187,790.6 189.8,794.3 192.5,791 195.2,792.3 198,788.3 200.8,786.7 203.5,784.9 206.2,783.3 209,781.2 211.8,780.7 214.5,756 217.2,751.7 220,751.7 222.8,748.6 225.5,748.5 228.2,748.6 231,746.6 233.8,747.1 236.5,744.8 239.2,740.9 242,738.7 244.8,738.9 247.5,735.6 250.2,735.1 253,735.7 255.8,734 258.5,726.1 261.2,719.4 264,712.7 266.8,716.6 269.5,713.9 272.2,715.6 275,715.5 277.8,716.9 280.5,721.3 283.2,720.1 286,719.5 288.8,718.2 291.5,715.2 294.2,715.8 297,712.8 299.8,709.9 302.5,712.4 305.2,707.6 308,709.3 310.8,711.2 313.5,710.4 316.2,711.4 319,706.9 321.8,704.6 324.5,699.3 327.2,696.8 330,689.9 332.8,689.9 335.5,683.8 338.2,683.8 341,681.9 343.8,680.3 346.5,682.7 349.2,688.2 352,692.4 354.8,693.2 357.5,690.1 360.2,694 363,691.5 365.8,691.9 368.5,693.6 371.2,692 374,691.4 376.8,688.8 379.5,683.5 382.2,681 385,682.8 387.8,687.2 390.5,689.2 393.2,686.9 396,684.1 398.8,681 401.5,680 404.2,683.1 407,684.2 409.8,684.6 412.5,686.3 415.2,689.7 418,686.8 420.8,685.1 423.5,679.3 426.2,670.9 429,663.3 431.8,656.9 434.5,653.8 437.2,650.8 440,654.9 442.8,656.4 445.5,656.7 448.2,657.3 451,659.2 453.8,660.3 456.5,661.7 459.2,667.1 462,671.1 464.8,673.6 467.5,677 470.2,684 473,684.6 475.8,684.6 478.5,684.4 481.2,683.8 484,678.7 486.8,679.5 489.5,677 492.2,679.7 495,679.6 497.8,678.9 500.5,680 503.2,675.3 506,670.9 508.8,671.5 511.5,663.7 514.2,657.4 517,652.6 519.8,648.6 522.5,642.4 525.2,640.7 528,633.8 530.8,635.2 533.5,631.6 536.2,624.9 539,622.5 541.8,617.9 544.5,615.8 547.2,611 550,609.8 552.8,606.4 555.5,604.8 558.2,603.2 561,590.7 563.8,578.2 566.5,573.5 569.2,570.6 572,563.3 574.8,562 577.5,558.8 580.2,553.2 583,544.3 585.8,537.9 588.5,524.2 591.2,510.3 594,510.8 596.8,507.2 599.5,502.8 602.2,501.5 605,499.9 607.8,509.8 610.5,520.5 613.2,534.6 616,542.9 618.8,557.7 621.5,563.9 624.2,564.1 627,558.5 629.8,554.9 632.5,554.3 635.2,550.4 638,549.4 640.8,542.4 643.5,545.3 646.2,546 649,548.2 651.8,548.2 654.5,551 657.2,561.1 660,570.7 662.8,574.6 665.5,573.7 668.2,569.7 671,568.4 673.8,562.4 676.5,556.9 679.2,551.3 682,556 684.8,564.9 687.5,583 690.2,597 693,596.6 695.8,595.1 698.5,593.3 701.2,590.5 704,592.5 706.8,588.1 709.5,588.6 712.2,589.9 715,588.3 717.8,585.3 720.5,584.2 723.2,583.4 726,578.8 728.8,578 731.5,579.4 734.2,591.5 737,603.1 739.8,602 742.5,601.7 745.2,595.9 748,595.7 750.8,603.3 753.5,605.8 756.2,611.5 759,611.9 761.8,613.9 764.5,616.3 767.2,613 770,612.9 772.8,610.8 775.5,613 778.2,605.8 781,604.3 783.8,601.7 786.5,598.7 789.2,581.4 792,549.9 794.8,531.4 797.5,523.8 800.2,520.8 803,523.9 805.8,521.1 808.5,522.6 811.2,520.5 814,523.5 816.8,521.6 819.5,524 822.2,521.7 825,524 827.8,520 830.5,517.5 833.2,514.1 836,512.5 838.8,520.5 841.5,522.9 844.2,529.3 847,531.8 849.8,541.8 852.5,547.1 855.2,550.8 858,546.9 860.8,548.3 863.5,547.1 866.2,544.8 869,545.9 871.8,548.6 874.5,550.8 877.2,551.8 880,554 882.8,556.2 885.5,562.5 888.2,561.7 891,563.3 893.8,565.1 896.5,566.1 899.2,564.1 902,563.1 904.8,563 907.5,565.9 910.2,572.7 913,580.9 915.8,593.1 918.5,598.2 921.2,602.9 924,603.1 926.8,597.3 929.5,598.3 932.2,595.8 935,595.3 937.8,589.7 940.5,587.3 943.2,574.2 946,568 948.8,563.8 951.5,559.8 954.2,557.7 957,554.5 959.8,556.3 962.5,558.3 965.2,558 968,560.6 970.8,567.4 973.5,576.1 976.2,577.9 979,577.9 981.8,577.8 984.5,577.2 987.2,581 990,590 992.8,593.4 995.5,602.9 998.2,619.6 1001,635.2 1003.8,684.5 1006.5,659.1 1009.2,653.4 1012,652.1 1014.8,648.1 1017.5,647.7 1020.2,647.8 1023,649.9 1025.8,649.4 1028.5,646.7 1031.2,648.8 1034,649.8 1036.8,651.3 1039.5,648.6 1042.2,650.2 1045,646.9 1047.8,646 1050.5,644 1053.2,639.3 1056,637.8 1058.8,642.2 1061.5,649.2 1064.2,655.9 1067,660.2 1069.8,661.8 1072.5,663.4 1075.2,659.7 1078,662.9 1080.8,661.9 1083.5,666.6 1086.2,671.6 1089,676 1091.8,678.5 1094.5,678.7 1097.2,680.4 1100,679 1102.8,671.9 1105.5,671.5 1108.2,671.1 1111,671 1113.8,675.8 1116.5,678.6 1119.2,677.9 1122,675.8 1124.8,672.3 1127.5,666.2 1130.2,657.9 1133,657.5 1135.8,649.9 1138.5,650.9 1141.2,651.7 1144,647.9 1146.8,649.1" fill="none" stroke="#ff7f0e" stroke-width="2.55" stroke-dasharray="9.44 4.08" stroke-linejoin="round" marker-start="url(#mo)" marker-mid="url(#mo)" marker-end="url(#mo)"/>
<polyline points="118.2,760 121,762.8 123.8,765.3 126.5,764.1 129.2,767.7 132,767.6 134.8,766.3 137.5,768.7 140.2,767.4 143,763.7 145.8,763 148.5,765 151.2,762.7 154,761.2 156.8,759.1 159.5,760.7 162.2,763.9 165,762.9 167.8,764.4 170.5,768.5 173.2,768.1 176,766.5 178.8,769.2 181.5,769.6 184.2,774.7 187,776.6 189.8,775.5 192.5,775.1 195.2,772.3 198,775.3 200.8,770.2 203.5,769.1 206.2,768.6 209,765.5 211.8,754.4 214.5,752.9 217.2,749.8 220,743.3 222.8,746.3 225.5,744.7 228.2,744.9 231,741.7 233.8,742.4 236.5,743.2 239.2,742.4 242,740.4 244.8,738 247.5,738 250.2,737 253,734.8 255.8,731.2 258.5,726.1 261.2,719.3 264,719 266.8,718.3 269.5,719.6 272.2,717.7 275,723.2 277.8,719.9 280.5,724.9 283.2,723.2 286,718.7 288.8,718.6 291.5,716.9 294.2,726.5 297,716.8 299.8,712.7 302.5,712 305.2,713.4 308,715.2 310.8,713.7 313.5,715.3 316.2,714.1 319,708.2 321.8,702.2 324.5,700.1 327.2,698.4 330,692.1 332.8,685.6 335.5,684.2 338.2,682.1 341,678.6 343.8,677.7 346.5,685 349.2,686 352,693.2 354.8,691.6 357.5,691.2 360.2,690.3 363,696 365.8,692.1 368.5,691.3 371.2,696.2 374,690 376.8,691.2 379.5,686.3 382.2,683.8 385,689.1 387.8,686.1 390.5,693.4 393.2,684.4 396,687.1 398.8,683.4 401.5,684.8 404.2,688.1 407,687.9 409.8,688.1 412.5,690.6 415.2,691.4 418,691.6 420.8,689.7 423.5,685 426.2,674.2 429,671.9 431.8,662.4 434.5,653.2 437.2,657.9 440,656.2 442.8,656.6 445.5,657.8 448.2,658.3 451,663.2 453.8,662.2 456.5,662.8 459.2,668.8 462,676.2 464.8,676.7 467.5,682.7 470.2,688.5 473,691.8 475.8,691.1 478.5,692.1 481.2,687.2 484,686.2 486.8,690.3 489.5,696.8 492.2,687 495,687.6 497.8,688 500.5,685.5 503.2,680.5 506,676.8 508.8,672.4 511.5,670.3 514.2,661 517,657.6 519.8,653.3 522.5,644.2 525.2,639.7 528,634.8 530.8,635.2 533.5,632.5 536.2,628.8 539,624.3 541.8,618.8 544.5,620.6 547.2,616.2 550,611.2 552.8,612.6 555.5,609.2 558.2,611.1 561,596.1 563.8,589.7 566.5,579.6 569.2,577.2 572,571.9 574.8,565.1 577.5,563.2 580.2,559.1 583,550.4 585.8,541 588.5,530.3 591.2,514.1 594,514 596.8,507.6 599.5,507.6 602.2,509.5 605,505.1 607.8,512.3 610.5,527.7 613.2,536.6 616,550.1 618.8,574.6 621.5,569.3 624.2,565.5 627,566.7 629.8,558.5 632.5,554.3 635.2,553.1 638,550.7 640.8,544.9 643.5,547.4 646.2,545 649,552.6 651.8,548.8 654.5,555.9 657.2,561.1 660,574.3 662.8,575.2 665.5,573.7 668.2,573.6 671,566.9 673.8,565.9 676.5,559.8 679.2,552.8 682,559.8 684.8,563.7 687.5,582.3 690.2,601.9 693,602 695.8,598.6 698.5,600.3 701.2,596.8 704,593.9 706.8,595.2 709.5,596.2 712.2,596.2 715,594.5 717.8,593.2 720.5,590.5 723.2,588.4 726,587.4 728.8,586.7 731.5,588.1 734.2,599.4 737,605.7 739.8,607.4 742.5,602.1 745.2,602 748,601.5 750.8,607.6 753.5,612.3 756.2,615.4 759,613.8 761.8,613 764.5,617.1 767.2,618.7 770,614.3 772.8,617.7 775.5,610.8 778.2,610.7 781,605.6 783.8,601.6 786.5,598.1 789.2,584.7 792,554.6 794.8,548 797.5,529.7 800.2,527.7 803,524.7 805.8,523.7 808.5,528.9 811.2,530.1 814,534.8 816.8,534.3 819.5,533.9 822.2,532.9 825,533.1 827.8,534.9 830.5,532.2 833.2,529.3 836,531.1 838.8,531.6 841.5,537.1 844.2,540.5 847,545.3 849.8,547.6 852.5,553.1 855.2,558.4 858,561.3 860.8,558.2 863.5,556.6 866.2,552.6 869,556.5 871.8,555.2 874.5,558.7 877.2,564.9 880,565.5 882.8,571.7 885.5,571.5 888.2,574.2 891,572.3 893.8,572.4 896.5,574.2 899.2,572.5 902,575 904.8,576 907.5,574.2 910.2,582.1 913,594.6 915.8,596.6 918.5,606 921.2,607.3 924,607.5 926.8,603.2 929.5,602.2 932.2,598.5 935,599 937.8,594.6 940.5,592.4 943.2,579.8 946,571.2 948.8,567.5 951.5,566.8 954.2,559.5 957,562.4 959.8,562 962.5,562.4 965.2,561.9 968,569.9 970.8,572.7 973.5,578.1 976.2,582 979,591.8 981.8,578.7 984.5,579.4 987.2,585.1 990,587 992.8,593.3 995.5,606.7 998.2,620.2 1001,637.2 1003.8,661.1 1006.5,662 1009.2,657.8 1012,655.9 1014.8,656.4 1017.5,651.5 1020.2,650.6 1023,651.8 1025.8,649.2 1028.5,649.9 1031.2,650.1 1034,652.8 1036.8,662.9 1039.5,652.4 1042.2,651.7 1045,650.8 1047.8,648.3 1050.5,648.1 1053.2,642.8 1056,640.7 1058.8,649.8 1061.5,658.7 1064.2,665.9 1067,665 1069.8,664.8 1072.5,665.1 1075.2,666.7 1078,665.9 1080.8,665.5 1083.5,670.6 1086.2,673.2 1089,674.4 1091.8,681.5 1094.5,681.8 1097.2,681.7 1100,680.5 1102.8,680.7 1105.5,675.8 1108.2,677.9 1111,676.8 1113.8,679.1 1116.5,679.5 1119.2,680.8 1122,676.9 1124.8,674.9 1127.5,665.6 1130.2,658.8 1133,654.7 1135.8,654.3 1138.5,651.8 1141.2,652.9 1144,650.1 1146.8,651.9" fill="none" stroke="#2ca02c" stroke-width="2.55" stroke-dasharray="9.44 4.08" stroke-linejoin="round" marker-start="url(#mg)" marker-mid="url(#mg)" marker-end="url(#mg)"/>
<polyline points="118.2,759.1 121,761.9 123.8,764.7 126.5,763.3 129.2,761.8 132,764.2 134.8,763.7 137.5,759.8 140.2,758.4 143,756.4 145.8,758.4 148.5,754.3 151.2,754.6 154,752 156.8,755.6 159.5,752.8 162.2,755.6 165,760.2 167.8,759.3 170.5,758.3 173.2,761 176,760.2 178.8,763.9 181.5,763.1 184.2,766.3 187,767.5 189.8,762.4 192.5,763.4 195.2,764.1 198,764.3 200.8,763.7 203.5,763.5 206.2,762.7 209,754.9 211.8,748.1 214.5,745.3 217.2,740.6 220,740.6 222.8,739 225.5,739.8 228.2,737 231,736.9 233.8,736.7 236.5,736.2 239.2,735.7 242,732.2 244.8,733.4 247.5,726.5 250.2,724.9 253,726.4 255.8,721.7 258.5,715.5 261.2,707.2 264,703.2 266.8,704.5 269.5,706.1 272.2,708.1 275,712.3 277.8,713.2 280.5,716.4 283.2,716.4 286,716.1 288.8,713.1 291.5,713.7 294.2,714 297,714.5 299.8,713 302.5,710.5 305.2,708.1 308,709.8 310.8,708.7 313.5,707.3 316.2,706.6 319,704 321.8,698.9 324.5,696.9 327.2,693 330,689 332.8,683.8 335.5,680.4 338.2,678.1 341,678.1 343.8,677.6 346.5,680.5 349.2,683.6 352,686.1 354.8,688.5 357.5,691.8 360.2,692.1 363,690.1 365.8,689.6 368.5,691.7 371.2,692.8 374,686.4 376.8,684.1 379.5,681.1 382.2,677.3 385,681.4 387.8,681.2 390.5,683.6 393.2,681.3 396,676.5 398.8,676.5 401.5,678.6 404.2,679.6 407,677.9 409.8,683.5 412.5,683.4 415.2,685.8 418,683.2 420.8,680.2 423.5,675.3 426.2,670.5 429,659.4 431.8,654.8 434.5,649.4 437.2,647.3 440,649.2 442.8,649 445.5,650.6 448.2,654.4 451,656.1 453.8,658.9 456.5,658.6 459.2,663.6 462,665.6 464.8,672.1 467.5,678.3 470.2,680.1 473,687.7 475.8,686.9 478.5,683.1 481.2,685.4 484,683.3 486.8,680.8 489.5,678.4 492.2,682.3 495,679.8 497.8,679.9 500.5,681.4 503.2,676.5 506,671.9 508.8,666 511.5,661.5 514.2,653.7 517,649.1 519.8,646.6 522.5,640.7 525.2,637.6 528,631.1 530.8,626.8 533.5,625.7 536.2,622.1 539,620.7 541.8,614.9 544.5,614.6 547.2,608.7 550,606.5 552.8,605.7 555.5,602.1 558.2,597.4 561,590.9 563.8,580.3 566.5,572.4 569.2,567.6 572,561.2 574.8,560 577.5,553.1 580.2,551.4 583,538.9 585.8,534.2 588.5,523.1 591.2,510.2 594,506 596.8,503.8 599.5,498.3 602.2,498.2 605,492.1 607.8,504 610.5,516.4 613.2,525.4 616,538.8 618.8,552.7 621.5,559 624.2,555.2 627,551.5 629.8,550.8 632.5,550.2 635.2,547.5 638,543.5 640.8,538.7 643.5,540.3 646.2,542.8 649,546 651.8,544.6 654.5,548.6 657.2,557.4 660,566.3 662.8,568.5 665.5,568.7 668.2,567.9 671,561.9 673.8,560.5 676.5,551.7 679.2,550.2 682,553.6 684.8,563.7 687.5,580.9 690.2,597.6 693,596.2 695.8,595.1 698.5,593.5 701.2,593.1 704,592.8 706.8,588.6 709.5,588.1 712.2,586.1 715,587.4 717.8,584.5 720.5,579.4 723.2,580.6 726,579.3 728.8,578.4 731.5,581.8 734.2,592.1 737,600.8 739.8,598.6 742.5,596.3 745.2,593.1 748,592.5 750.8,599.5 753.5,603.6 756.2,605.8 759,604.7 761.8,610.1 764.5,607.9 767.2,607.1 770,607 772.8,610.8 775.5,609.8 778.2,607.4 781,604.3 783.8,601.1 786.5,596.3 789.2,579.2 792,548.4 794.8,528.2 797.5,522.8 800.2,521.7 803,517.6 805.8,517.3 808.5,518.9 811.2,518.7 814,524 816.8,524.9 819.5,528.5 822.2,525 825,525 827.8,520.4 830.5,522.1 833.2,520.6 836,517.5 838.8,523.5 841.5,526.3 844.2,531.7 847,531.3 849.8,537.4 852.5,543.8 855.2,546.5 858,547.8 860.8,546.3 863.5,540 866.2,540.4 869,541.4 871.8,544.4 874.5,546.1 877.2,552.5 880,552.4 882.8,558.7 885.5,563.5 888.2,561.7 891,561.9 893.8,565.7 896.5,566.2 899.2,563.3 902,563.1 904.8,562.9 907.5,564.7 910.2,570.2 913,578.8 915.8,594.9 918.5,596.2 921.2,602.4 924,600.7 926.8,599.4 929.5,596.1 932.2,591.2 935,589.7 937.8,588.1 940.5,584.2 943.2,569.8 946,560.4 948.8,557.3 951.5,556.3 954.2,555 957,553.6 959.8,551 962.5,555.3 965.2,557.7 968,559.4 970.8,569.8 973.5,576.8 976.2,578.7 979,578.9 981.8,574.5 984.5,574.5 987.2,579.2 990,584.5 992.8,590.7 995.5,602.2 998.2,612.4 1001,631.2 1003.8,655.8 1006.5,654.8 1009.2,652.9 1012,647.3 1014.8,646.9 1017.5,648.4 1020.2,646.2 1023,646.4 1025.8,643.4 1028.5,642.4 1031.2,643.6 1034,644.1 1036.8,646 1039.5,646 1042.2,646.7 1045,645.2 1047.8,640 1050.5,639 1053.2,635.5 1056,634.5 1058.8,639.5 1061.5,646.6 1064.2,657.2 1067,655.7 1069.8,655.4 1072.5,657.4 1075.2,660.9 1078,660.4 1080.8,662.2 1083.5,664.2 1086.2,667.5 1089,671.3 1091.8,677 1094.5,677.6 1097.2,675.7 1100,673.2 1102.8,671.2 1105.5,671.8 1108.2,667.3 1111,671 1113.8,669.3 1116.5,675.5 1119.2,677.3 1122,673.1 1124.8,670.4 1127.5,661.2 1130.2,660.3 1133,652.5 1135.8,652.1 1138.5,647.1 1141.2,646.9 1144,650 1146.8,648.2" fill="none" stroke="#d62728" stroke-width="2.55" stroke-dasharray="9.44 4.08" stroke-linejoin="round" marker-start="url(#mr)" marker-mid="url(#mr)" marker-end="url(#mr)"/>
<rect x="66.7" y="468.6" width="1131.3" height="340.5" fill="none" stroke="#1a1a1a" stroke-width="1.36"/>
<text x="118.2" y="834.1" font-size="18.0" text-anchor="middle" textLength="10.8" lengthAdjust="spacingAndGlyphs">0</text>
<text x="255.8" y="834.1" font-size="18.0" text-anchor="middle" textLength="21.6" lengthAdjust="spacingAndGlyphs">50</text>
<text x="393.2" y="834.1" font-size="18.0" text-anchor="middle" textLength="32.4" lengthAdjust="spacingAndGlyphs">100</text>
<text x="530.8" y="834.1" font-size="18.0" text-anchor="middle" textLength="32.4" lengthAdjust="spacingAndGlyphs">150</text>
<text x="668.2" y="834.1" font-size="18.0" text-anchor="middle" textLength="32.4" lengthAdjust="spacingAndGlyphs">200</text>
<text x="805.8" y="834.1" font-size="18.0" text-anchor="middle" textLength="32.4" lengthAdjust="spacingAndGlyphs">250</text>
<text x="943.2" y="834.1" font-size="18.0" text-anchor="middle" textLength="32.4" lengthAdjust="spacingAndGlyphs">300</text>
<text x="1080.8" y="834.1" font-size="18.0" text-anchor="middle" textLength="32.4" lengthAdjust="spacingAndGlyphs">350</text>
<text x="54.8" y="512.4" font-size="18.0" text-anchor="end" textLength="27.0" lengthAdjust="spacingAndGlyphs">0.8</text>
<text x="54.8" y="563.7" font-size="18.0" text-anchor="end" textLength="27.0" lengthAdjust="spacingAndGlyphs">0.7</text>
<text x="54.8" y="614.9" font-size="18.0" text-anchor="end" textLength="27.0" lengthAdjust="spacingAndGlyphs">0.6</text>
<text x="54.8" y="666.2" font-size="18.0" text-anchor="end" textLength="27.0" lengthAdjust="spacingAndGlyphs">0.5</text>
<text x="54.8" y="717.4" font-size="18.0" text-anchor="end" textLength="27.0" lengthAdjust="spacingAndGlyphs">0.4</text>
<text x="54.8" y="768.7" font-size="18.0" text-anchor="end" textLength="27.0" lengthAdjust="spacingAndGlyphs">0.3</text>
<path d="M118.2,809.1v5.95M255.8,809.1v5.95M393.2,809.1v5.95M530.8,809.1v5.95M668.2,809.1v5.95M805.8,809.1v5.95M943.2,809.1v5.95M1080.8,809.1v5.95M66.7,505.7h-5.95M66.7,557h-5.95M66.7,608.2h-5.95M66.7,659.5h-5.95M66.7,710.7h-5.95M66.7,762h-5.95" stroke="#1a1a1a" stroke-width="1.36" fill="none"/>
<text x="632.4" y="858.1" font-size="17.8" text-anchor="middle" textLength="94.6" lengthAdjust="spacingAndGlyphs">Time Steps</text>
<text x="16" y="638.9" font-size="17.8" text-anchor="middle" textLength="55.5" lengthAdjust="spacingAndGlyphs" transform="rotate(-90 16 638.9)">Values</text>
<rect x="75.5" y="477.3" width="386.3" height="108.4" rx="3.4" fill="#fff" fill-opacity="0.8" stroke="#d9d9d9" stroke-width="1.7"/>
<path d="M82.3,491.3H116.3" stroke="#1f77b4" stroke-width="2.55" stroke-linecap="square"/>
<circle cx="99.3" cy="491.3" r="5.6" fill="#1f77b4"/>
<text x="129.6" y="497.6" font-size="17.8" textLength="97.1" lengthAdjust="spacingAndGlyphs">True Values</text>
<path d="M82.3,517H116.3" stroke="#ff7f0e" stroke-width="2.55" stroke-dasharray="9.44 4.08"/>
<path d="M94.2,511.9l10.2,10.2m0,-10.2l-10.2,10.2" stroke="#ff7f0e" stroke-width="1.7"/>
<text x="129.6" y="523" font-size="17.8" textLength="322.8" lengthAdjust="spacingAndGlyphs">Hybrid (1D-CNN + LSTM) - Predictions</text>
<path d="M82.3,543H116.3" stroke="#2ca02c" stroke-width="2.55" stroke-dasharray="9.44 4.08"/>
<path d="M94.2,537.9l10.2,10.2m0,-10.2l-10.2,10.2" stroke="#2ca02c" stroke-width="1.7"/>
<text x="129.6" y="549" font-size="17.8" textLength="255.1" lengthAdjust="spacingAndGlyphs">1D-CNN Baseline - Predictions</text>
<path d="M82.3,568.6H116.3" stroke="#d62728" stroke-width="2.55" stroke-dasharray="9.44 4.08"/>
<path d="M94.2,563.5l10.2,10.2m0,-10.2l-10.2,10.2" stroke="#d62728" stroke-width="1.7"/>
<text x="129.6" y="574.6" font-size="17.8" textLength="233.0" lengthAdjust="spacingAndGlyphs">LSTM Baseline - Predictions</text>
</g>
<g>
<text x="632.4" y="897.7" font-size="21.2" text-anchor="middle" textLength="430.0" lengthAdjust="spacingAndGlyphs">Model Predictions vs True Values on Day 3</text>
<polyline points="118.2,1187.4 121,1188.9 123.8,1190.1 126.5,1187.8 129.2,1189.7 132,1186 134.8,1184.5 137.5,1180 140.2,1181.1 143,1177.6 145.8,1174.1 148.5,1178.7 151.2,1180.4 154,1182.8 156.8,1181.1 159.5,1183.3 162.2,1184.2 165,1184.5 167.8,1185.1 170.5,1188.5 173.2,1189.6 176,1189.3 178.8,1193.1 181.5,1189.1 184.2,1189.9 187,1188.7 189.8,1189.4 192.5,1189.7 195.2,1189.8 198,1185 200.8,1182.4 203.5,1174.5 206.2,1173.3 209,1170.9 211.8,1167.8 214.5,1167.7 217.2,1167.8 220,1166 222.8,1164.9 225.5,1166.4 228.2,1164.3 231,1161.5 233.8,1161.3 236.5,1161.7 239.2,1159.9 242,1157 244.8,1157 247.5,1155.5 250.2,1153.7 253,1134.9 255.8,1133 258.5,1137.6 261.2,1139.5 264,1138.2 266.8,1140 269.5,1138.7 272.2,1140.8 275,1142.8 277.8,1145.5 280.5,1141.7 283.2,1141.9 286,1138.6 288.8,1137.1 291.5,1136.8 294.2,1138.4 297,1136.9 299.8,1138.7 302.5,1138.6 305.2,1137.5 308,1132.9 310.8,1131.1 313.5,1126.8 316.2,1123.6 319,1119.1 321.8,1115.5 324.5,1111.3 327.2,1108.8 330,1109.5 332.8,1108.5 335.5,1108.5 338.2,1106.2 341,1106.6 343.8,1110.2 346.5,1109.8 349.2,1110.6 352,1113.6 354.8,1116.9 357.5,1118.3 360.2,1115.1 363,1114.6 365.8,1111.3 368.5,1110.8 371.2,1110.5 374,1110.6 376.8,1109.5 379.5,1107.3 382.2,1107.5 385,1105.1 387.8,1106.5 390.5,1104.6 393.2,1104.8 396,1105.2 398.8,1106.2 401.5,1109.8 404.2,1112 407,1111.9 409.8,1113.3 412.5,1113.8 415.2,1110.3 418,1107.4 420.8,1102.1 423.5,1082.8 426.2,1077.6 429,1077.5 431.8,1080.9 434.5,1080.5 437.2,1079.5 440,1082.5 442.8,1082.3 445.5,1086.1 448.2,1090.6 451,1092 453.8,1104.4 456.5,1118.7 459.2,1118.1 462,1115.8 464.8,1117.5 467.5,1116.3 470.2,1112.6 473,1113.1 475.8,1112.4 478.5,1108.4 481.2,1108.5 484,1109 486.8,1111.7 489.5,1111.6 492.2,1109.3 495,1103.8 497.8,1101.1 500.5,1097.5 503.2,1093 506,1090.1 508.8,1084.7 511.5,1079.9 514.2,1071.7 517,1066.1 519.8,1059.4 522.5,1056.3 525.2,1052.8 528,1046.8 530.8,1042.6 533.5,1040.9 536.2,1037.7 539,1038 541.8,1038.3 544.5,1037.7 547.2,1028.5 550,1022 552.8,1011.4 555.5,1000.3 558.2,993.5 561,991.5 563.8,988.2 566.5,983.7 569.2,975.1 572,964.7 574.8,954.9 577.5,948.1 580.2,942.4 583,937.3 585.8,936.6 588.5,928.9 591.2,924.9 594,925 596.8,930 599.5,936.1 602.2,964.5 605,976.7 607.8,973.8 610.5,993 613.2,1012.1 616,993.7 618.8,983.8 621.5,981.3 624.2,978 627,977.5 629.8,975.6 632.5,973.7 635.2,976.4 638,976.6 640.8,974 643.5,971.8 646.2,972.4 649,978 651.8,985.5 654.5,1002.8 657.2,1002.9 660,1001.5 662.8,989.8 665.5,977 668.2,964.9 671,975.6 673.8,977.4 676.5,983.4 679.2,1009.6 682,1038.5 684.8,1027.6 687.5,1022.4 690.2,1023.7 693,1022.6 695.8,1019.9 698.5,1021.9 701.2,1019.8 704,1018 706.8,1017.6 709.5,1014.7 712.2,1014.8 715,1013.9 717.8,1011.8 720.5,1011.8 723.2,1009.2 726,1015.7 728.8,1016.9 731.5,1017.8 734.2,1020 737,1022.7 739.8,1022.4 742.5,1023.8 745.2,1025.1 748,1028.1 750.8,1033 753.5,1034.3 756.2,1036.3 759,1039.3 761.8,1043.4 764.5,1043.4 767.2,1037.7 770,1033 772.8,1029.6 775.5,1025.4 778.2,1026.9 781,976.4 783.8,957.3 786.5,952.6 789.2,951.4 792,949 794.8,950.4 797.5,946 800.2,943.1 803,941.5 805.8,944.8 808.5,949.6 811.2,949.4 814,951.2 816.8,951.1 819.5,951 822.2,949.7 825,947.9 827.8,943.7 830.5,949.7 833.2,952.3 836,955.9 838.8,958.6 841.5,963 844.2,969.4 847,970.9 849.8,975.1 852.5,974.9 855.2,971.9 858,970.5 860.8,973.3 863.5,974.2 866.2,974.7 869,979.6 871.8,980.4 874.5,983.1 877.2,985.3 880,986.9 882.8,987.7 885.5,990.5 888.2,989.9 891,990.7 893.8,989.7 896.5,990.2 899.2,991.1 902,998.2 904.8,1034.2 907.5,1038.2 910.2,1037.5 913,1032.5 915.8,1030.2 918.5,1029 921.2,1025.6 924,1024.6 926.8,1021.9 929.5,1019.8 932.2,1011.1 935,990.5 937.8,983.9 940.5,984.5 943.2,984.9 946,981.5 948.8,983.2 951.5,980.5 954.2,981.4 957,981.4 959.8,987.1 962.5,1021.2 965.2,1015.6 968,1012.6 970.8,1009.7 973.5,1006.2 976.2,1002 979,1005.8 981.8,1010.5 984.5,1026.4 987.2,1047.9 990,1067.8 992.8,1096.2 995.5,1092.1 998.2,1077 1001,1075.4 1003.8,1073.2 1006.5,1071.9 1009.2,1070.8 1012,1071.1 1014.8,1068.6 1017.5,1069.6 1020.2,1070.2 1023,1073.2 1025.8,1072.2 1028.5,1074.8 1031.2,1074.4 1034,1074.6 1036.8,1076.1 1039.5,1076.7 1042.2,1072.1 1045,1068.3 1047.8,1065 1050.5,1064 1053.2,1065.6 1056,1098.5 1058.8,1094.3 1061.5,1091 1064.2,1088.5 1067,1088.8 1069.8,1089.3 1072.5,1087.8 1075.2,1094.1 1078,1098.1 1080.8,1116.5 1083.5,1115.9 1086.2,1111.9 1089,1108.7 1091.8,1106.5 1094.5,1104.2 1097.2,1102.5 1100,1099 1102.8,1097.8 1105.5,1099.5 1108.2,1103.4 1111,1104.6 1113.8,1103.6 1116.5,1094.3 1119.2,1086.1 1122,1081.5 1124.8,1079.2 1127.5,1078.8 1130.2,1076.4 1133,1076 1135.8,1074 1138.5,1069.7 1141.2,1072.7 1144,1072.6 1146.8,1074.9" fill="none" stroke="#1f77b4" stroke-width="2.55" stroke-linejoin="round" marker-start="url(#mb)" marker-mid="url(#mb)" marker-end="url(#mb)"/>
<polyline points="118.2,1225.2 121,1227.8 123.8,1225 126.5,1228.5 129.2,1229 132,1229.1 134.8,1231.2 137.5,1228.6 140.2,1223.7 143,1224.8 145.8,1220.3 148.5,1212.6 151.2,1209.9 154,1210.5 156.8,1210.6 159.5,1210.7 162.2,1214.9 165,1218.1 167.8,1219.6 170.5,1223 173.2,1224.5 176,1228.8 178.8,1231.8 181.5,1230.7 184.2,1234.3 187,1237.4 189.8,1234.8 192.5,1237.1 195.2,1230.6 198,1227.2 200.8,1226.2 203.5,1224.2 206.2,1220.8 209,1218.6 211.8,1216 214.5,1193.8 217.2,1191.3 220,1188.6 222.8,1187.3 225.5,1187.9 228.2,1190.5 231,1187 233.8,1189.7 236.5,1184.6 239.2,1182 242,1183.2 244.8,1181.3 247.5,1179.2 250.2,1180.7 253,1176.5 255.8,1171.6 258.5,1167 261.2,1159.8 264,1154 266.8,1155.8 269.5,1153.7 272.2,1152.1 275,1157.7 277.8,1157.6 280.5,1158.3 283.2,1161.3 286,1158.3 288.8,1156.1 291.5,1157.9 294.2,1155.1 297,1156.9 299.8,1155 302.5,1154.5 305.2,1149.8 308,1152.1 310.8,1153.8 313.5,1151.3 316.2,1150.8 319,1147 321.8,1142.9 324.5,1139.7 327.2,1134.9 330,1132.8 332.8,1130.2 335.5,1128.1 338.2,1123.4 341,1121.8 343.8,1121.1 346.5,1124.2 349.2,1128.3 352,1135.2 354.8,1134.3 357.5,1132.2 360.2,1132.7 363,1137.3 365.8,1132.9 368.5,1134.9 371.2,1136.1 374,1132.5 376.8,1129.7 379.5,1124.9 382.2,1123.9 385,1122.8 387.8,1128 390.5,1129.4 393.2,1125.8 396,1118.4 398.8,1119 401.5,1120.1 404.2,1121.2 407,1125.1 409.8,1123.2 412.5,1127.8 415.2,1125.3 418,1129.6 420.8,1123.2 423.5,1115.1 426.2,1113.1 429,1103 431.8,1098.5 434.5,1091.7 437.2,1089.7 440,1093.8 442.8,1096.9 445.5,1094.4 448.2,1097.4 451,1101.8 453.8,1105.1 456.5,1102.9 459.2,1104.9 462,1113 464.8,1115.3 467.5,1122.3 470.2,1125.9 473,1129 475.8,1130.9 478.5,1128.1 481.2,1124.8 484,1123.8 486.8,1126 489.5,1126.7 492.2,1126.2 495,1122.2 497.8,1125.9 500.5,1122.9 503.2,1120 506,1117.3 508.8,1114.1 511.5,1105.5 514.2,1099.8 517,1095.4 519.8,1088 522.5,1082.2 525.2,1080.3 528,1074.6 530.8,1072.7 533.5,1069.1 536.2,1068.9 539,1063.2 541.8,1060.4 544.5,1053.4 547.2,1049.2 550,1047.4 552.8,1047.8 555.5,1044.1 558.2,1042 561,1029.5 563.8,1017 566.5,1013.5 569.2,1008.4 572,1005.9 574.8,1001.7 577.5,996.2 580.2,990.7 583,980.5 585.8,974.9 588.5,963.5 591.2,951.8 594,947.3 596.8,943.6 599.5,939.6 602.2,936.2 605,938.5 607.8,945.1 610.5,957.5 613.2,969.7 616,981.1 618.8,996.5 621.5,998.7 624.2,998 627,996.7 629.8,992.6 632.5,990 635.2,990.4 638,983.1 640.8,981.7 643.5,981.4 646.2,983.4 649,985.6 651.8,990.8 654.5,991 657.2,996.1 660,1011.1 662.8,1012.3 665.5,1009.1 668.2,1010.8 671,1004.5 673.8,1000.9 676.5,993.3 679.2,991.1 682,994.8 684.8,1003.7 687.5,1022.9 690.2,1035.7 693,1035.3 695.8,1036.9 698.5,1033.9 701.2,1035.4 704,1034.6 706.8,1033.7 709.5,1030.6 712.2,1030.5 715,1027.8 717.8,1023.6 720.5,1022.6 723.2,1023.1 726,1020 728.8,1019.1 731.5,1018.5 734.2,1032.3 737,1041.9 739.8,1038.1 742.5,1038.3 745.2,1035.7 748,1037.2 750.8,1041.9 753.5,1043.6 756.2,1046.6 759,1049.7 761.8,1052.3 764.5,1054.8 767.2,1053.7 770,1056.1 772.8,1052.7 775.5,1054.4 778.2,1052.4 781,1048 783.8,1043.8 786.5,1042.4 789.2,1023.6 792,996.4 794.8,972.3 797.5,963.4 800.2,961.1 803,962.1 805.8,959.8 808.5,957.4 811.2,961.1 814,959.1 816.8,965.1 819.5,964.2 822.2,966.2 825,963.1 827.8,964.7 830.5,964.2 833.2,960.4 836,959.7 838.8,966.1 841.5,969.5 844.2,973.5 847,976.1 849.8,984 852.5,990.8 855.2,993.3 858,993.2 860.8,987.1 863.5,986.1 866.2,982.6 869,982 871.8,984.4 874.5,985.1 877.2,991.1 880,994.3 882.8,995.8 885.5,1001.3 888.2,998.6 891,998.6 893.8,1004.5 896.5,1002 899.2,1002.2 902,1004.6 904.8,1005.1 907.5,1005.8 910.2,1010.6 913,1022.5 915.8,1033.2 918.5,1040.5 921.2,1042.7 924,1044.4 926.8,1040.4 929.5,1041.2 932.2,1037.9 935,1035.4 937.8,1032.5 940.5,1028.9 943.2,1017.6 946,1005.7 948.8,1004.4 951.5,1004.9 954.2,1000.2 957,1000.9 959.8,1000.7 962.5,999.2 965.2,1004.4 968,1007.4 970.8,1010.8 973.5,1020.5 976.2,1022.6 979,1021.8 981.8,1017.2 984.5,1015.8 987.2,1018.9 990,1023.7 992.8,1032.2 995.5,1042.9 998.2,1055.3 1001,1070.5 1003.8,1124.2 1006.5,1096.3 1009.2,1095.6 1012,1092.6 1014.8,1090.3 1017.5,1092.8 1020.2,1090.6 1023,1086.6 1025.8,1084.4 1028.5,1087.1 1031.2,1089.3 1034,1089.9 1036.8,1090.3 1039.5,1089.4 1042.2,1088.6 1045,1090.8 1047.8,1087.2 1050.5,1084.6 1053.2,1079 1056,1079.9 1058.8,1086.4 1061.5,1091.4 1064.2,1096.9 1067,1099.7 1069.8,1102 1072.5,1099.3 1075.2,1104.4 1078,1104.3 1080.8,1105 1083.5,1106.9 1086.2,1112.3 1089,1115.5 1091.8,1117.3 1094.5,1122.2 1097.2,1116.3 1100,1115.5 1102.8,1117.4 1105.5,1117 1108.2,1115 1111,1116 1113.8,1116.6 1116.5,1120.3 1119.2,1118.1 1122,1116.9 1124.8,1110.4 1127.5,1107.8 1130.2,1101.5 1133,1097.2 1135.8,1092.6 1138.5,1088.3 1141.2,1091.1 1144,1089.1 1146.8,1088.1" fill="none" stroke="#ff7f0e" stroke-width="2.55" stroke-dasharray="9.44 4.08" stroke-linejoin="round" marker-start="url(#mo)" marker-mid="url(#mo)" marker-end="url(#mo)"/>
<polyline points="118.2,1199.7 121,1204.2 123.8,1201.6 126.5,1205 129.2,1204.1 132,1208.1 134.8,1210.3 137.5,1206.4 140.2,1204.2 143,1202.3 145.8,1202.9 148.5,1202.7 151.2,1199.4 154,1201.3 156.8,1200.4 159.5,1201.6 162.2,1202.4 165,1203.3 167.8,1200.1 170.5,1204.4 173.2,1205 176,1207.8 178.8,1207.3 181.5,1212.7 184.2,1211.5 187,1211.8 189.8,1209.9 192.5,1208.5 195.2,1206.9 198,1206.3 200.8,1209.9 203.5,1205.6 206.2,1206.4 209,1203.5 211.8,1192.8 214.5,1193.6 217.2,1191.5 220,1187.1 222.8,1186.4 225.5,1185.4 228.2,1183.9 231,1186 233.8,1185.3 236.5,1184.7 239.2,1184.1 242,1178.9 244.8,1176.4 247.5,1177.1 250.2,1174.5 253,1173.9 255.8,1166.4 258.5,1163.6 261.2,1152.3 264,1153.5 266.8,1152.3 269.5,1153.1 272.2,1155.3 275,1158.3 277.8,1164.7 280.5,1165.7 283.2,1166.1 286,1166.9 288.8,1162.7 291.5,1165.4 294.2,1160.9 297,1172.3 299.8,1157.2 302.5,1160.8 305.2,1157.6 308,1154.9 310.8,1159.5 313.5,1165.2 316.2,1155.2 319,1153.8 321.8,1145.7 324.5,1143.8 327.2,1137.9 330,1132.5 332.8,1132 335.5,1131.1 338.2,1129.4 341,1124.4 343.8,1126.4 346.5,1126.5 349.2,1132.6 352,1134.2 354.8,1139.6 357.5,1136.8 360.2,1139.8 363,1136 365.8,1138.6 368.5,1138.3 371.2,1136.1 374,1134.1 376.8,1134.2 379.5,1126.2 382.2,1126.2 385,1128.6 387.8,1132 390.5,1133.2 393.2,1128.5 396,1130.4 398.8,1127.1 401.5,1125 404.2,1130.3 407,1131.6 409.8,1130 412.5,1131.4 415.2,1133 418,1133.7 420.8,1128.9 423.5,1125.9 426.2,1119.1 429,1110 431.8,1103.8 434.5,1101.2 437.2,1103.6 440,1099.7 442.8,1101.6 445.5,1104.8 448.2,1104 451,1103.7 453.8,1102.7 456.5,1105.3 459.2,1108.2 462,1116.2 464.8,1116.9 467.5,1125.2 470.2,1124.8 473,1131.7 475.8,1130.2 478.5,1131.6 481.2,1132.5 484,1131.6 486.8,1135.4 489.5,1129.4 492.2,1131.4 495,1133 497.8,1131.6 500.5,1131.2 503.2,1125.5 506,1119.6 508.8,1117.2 511.5,1108.2 514.2,1103.4 517,1098.4 519.8,1095.4 522.5,1091 525.2,1083.3 528,1078.4 530.8,1076.6 533.5,1076.3 536.2,1071.5 539,1073.9 541.8,1067.7 544.5,1066.2 547.2,1059.1 550,1058.2 552.8,1058.7 555.5,1056.7 558.2,1053.4 561,1041.5 563.8,1028.2 566.5,1021.1 569.2,1019.5 572,1011.8 574.8,1012.1 577.5,1006.6 580.2,1002.4 583,993.2 585.8,983.7 588.5,974.4 591.2,963.7 594,959.5 596.8,953 599.5,953.3 602.2,952.2 605,948.6 607.8,957.5 610.5,968.4 613.2,982.1 616,991.8 618.8,1006.5 621.5,1007.6 624.2,1007.7 627,1007 629.8,1003.9 632.5,1001.9 635.2,999 638,991.6 640.8,989.3 643.5,991.3 646.2,990.4 649,993.5 651.8,997.8 654.5,999.2 657.2,1008.4 660,1018.2 662.8,1025.1 665.5,1023 668.2,1019.4 671,1016 673.8,1013.7 676.5,1002 679.2,1008.1 682,1000.5 684.8,1007.7 687.5,1025.1 690.2,1044.6 693,1037.6 695.8,1040.4 698.5,1040.5 701.2,1036.5 704,1037 706.8,1035 709.5,1040.8 712.2,1037.2 715,1039.6 717.8,1037 720.5,1033.6 723.2,1032.5 726,1032.6 728.8,1027.3 731.5,1028.2 734.2,1042.9 737,1052.3 739.8,1049.3 742.5,1043.3 745.2,1041.6 748,1044 750.8,1044.3 753.5,1051.9 756.2,1058 759,1055.9 761.8,1061 764.5,1062.6 767.2,1061.7 770,1061.5 772.8,1061.7 775.5,1062 778.2,1056.3 781,1054.6 783.8,1047.6 786.5,1041.3 789.2,1035.8 792,994.5 794.8,978.5 797.5,966.8 800.2,968.4 803,965.8 805.8,963.8 808.5,968.7 811.2,969.5 814,975.5 816.8,972.7 819.5,972.9 822.2,973 825,973.4 827.8,972 830.5,971.7 833.2,969.6 836,969.7 838.8,974 841.5,979.2 844.2,978.9 847,984.1 849.8,991 852.5,998.9 855.2,999.2 858,998 860.8,996.8 863.5,992.3 866.2,994.2 869,994.3 871.8,996.8 874.5,1002.8 877.2,1001.4 880,1007.6 882.8,1010.5 885.5,1015.1 888.2,1014.4 891,1014.6 893.8,1017.3 896.5,1015.4 899.2,1017.7 902,1017.5 904.8,1016.5 907.5,1015.2 910.2,1022.3 913,1033.3 915.8,1042.7 918.5,1052.1 921.2,1054.2 924,1055 926.8,1049.9 929.5,1051.4 932.2,1046 935,1044.1 937.8,1044.2 940.5,1041.1 943.2,1026.5 946,1016.3 948.8,1011 951.5,1008 954.2,1004.3 957,1004.3 959.8,1003.9 962.5,1004 965.2,1008.1 968,1011.6 970.8,1019.5 973.5,1024.6 976.2,1029.1 979,1027.7 981.8,1028.8 984.5,1024.1 987.2,1037.7 990,1033.1 992.8,1040.4 995.5,1053.4 998.2,1067 1001,1080.3 1003.8,1109.3 1006.5,1107.9 1009.2,1102.9 1012,1100.4 1014.8,1097.1 1017.5,1096.4 1020.2,1096.5 1023,1095.1 1025.8,1097.5 1028.5,1097.5 1031.2,1097 1034,1096.3 1036.8,1095.3 1039.5,1099.9 1042.2,1097.6 1045,1093.2 1047.8,1094.5 1050.5,1093 1053.2,1086.6 1056,1083.7 1058.8,1092.2 1061.5,1099.7 1064.2,1104.5 1067,1106 1069.8,1106.9 1072.5,1108.4 1075.2,1106.3 1078,1110.3 1080.8,1111.4 1083.5,1113.1 1086.2,1115.3 1089,1118.1 1091.8,1127.3 1094.5,1139.5 1097.2,1128 1100,1127.6 1102.8,1127 1105.5,1123.9 1108.2,1122.5 1111,1123.6 1113.8,1129.1 1116.5,1131.9 1119.2,1132.8 1122,1130.7 1124.8,1123.1 1127.5,1112.9 1130.2,1110.7 1133,1104.3 1135.8,1099.6 1138.5,1098.9 1141.2,1098.4 1144,1097.4 1146.8,1098.2" fill="none" stroke="#2ca02c" stroke-width="2.55" stroke-dasharray="9.44 4.08" stroke-linejoin="round" marker-start="url(#mg)" marker-mid="url(#mg)" marker-end="url(#mg)"/>
<polyline points="118.2,1203.1 121,1202.6 123.8,1207.3 126.5,1203.7 129.2,1204.5 132,1206.8 134.8,1205.9 137.5,1202.2 140.2,1203.5 143,1201.7 145.8,1199.2 148.5,1199.1 151.2,1200.1 154,1196.9 156.8,1199.5 159.5,1200.6 162.2,1201 165,1201.4 167.8,1202.4 170.5,1203 173.2,1205 176,1204 178.8,1208.7 181.5,1207.7 184.2,1207.6 187,1207.3 189.8,1208.5 192.5,1208.6 195.2,1207.6 198,1209.1 200.8,1205.9 203.5,1205 206.2,1206 209,1201.3 211.8,1191.7 214.5,1189.7 217.2,1189 220,1186.3 222.8,1184.6 225.5,1186.5 228.2,1183.9 231,1184.4 233.8,1182.8 236.5,1180.7 239.2,1176.7 242,1177.1 244.8,1171.2 247.5,1173.5 250.2,1170.8 253,1169.5 255.8,1167.9 258.5,1160.2 261.2,1152.5 264,1148.1 266.8,1147.8 269.5,1148.2 272.2,1152.8 275,1157.3 277.8,1157.9 280.5,1159.8 283.2,1155.6 286,1154.6 288.8,1155.9 291.5,1155.9 294.2,1153.9 297,1150.6 299.8,1152.3 302.5,1149.6 305.2,1148.5 308,1147.7 310.8,1148 313.5,1151.6 316.2,1149.4 319,1142.9 321.8,1142.9 324.5,1135.9 327.2,1134.5 330,1128.5 332.8,1124.2 335.5,1124.2 338.2,1118 341,1115.7 343.8,1118.1 346.5,1119.8 349.2,1123.9 352,1126.8 354.8,1131.7 357.5,1132.1 360.2,1128.1 363,1128.2 365.8,1129.7 368.5,1129.9 371.2,1127.4 374,1124.7 376.8,1124.7 379.5,1116.7 382.2,1119.9 385,1117.2 387.8,1118.9 390.5,1121.1 393.2,1117 396,1117.1 398.8,1115.7 401.5,1114.1 404.2,1119.7 407,1120.2 409.8,1120.9 412.5,1121.1 415.2,1120.4 418,1121.7 420.8,1116.8 423.5,1111.2 426.2,1105.6 429,1100.1 431.8,1094.5 434.5,1086.8 437.2,1089.1 440,1090.6 442.8,1090.2 445.5,1092.7 448.2,1092.3 451,1097.3 453.8,1099.6 456.5,1099.1 459.2,1102.7 462,1108.3 464.8,1114 467.5,1119.5 470.2,1121.3 473,1126.1 475.8,1127.6 478.5,1122.9 481.2,1125.1 484,1122.8 486.8,1123.6 489.5,1120.2 492.2,1120.4 495,1122.8 497.8,1124.9 500.5,1124.4 503.2,1117.2 506,1114.5 508.8,1113.1 511.5,1108.1 514.2,1102.3 517,1095 519.8,1089.2 522.5,1082.9 525.2,1077.6 528,1073.1 530.8,1069.5 533.5,1065 536.2,1063.1 539,1059.8 541.8,1059.1 544.5,1054.2 547.2,1048.8 550,1049.2 552.8,1047.6 555.5,1044.7 558.2,1042.3 561,1032.6 563.8,1019.7 566.5,1014.2 569.2,1006.1 572,1001.2 574.8,998.2 577.5,997.7 580.2,988.1 583,979.7 585.8,974.9 588.5,960.9 591.2,948 594,945.2 596.8,944.2 599.5,940 602.2,941 605,935.4 607.8,944.4 610.5,958.9 613.2,970.6 616,984.1 618.8,995 621.5,1002.2 624.2,999.5 627,996.8 629.8,993.2 632.5,990.3 635.2,990.7 638,985.6 640.8,979.6 643.5,983.1 646.2,984.4 649,987.1 651.8,987.5 654.5,990.4 657.2,995.6 660,1006.7 662.8,1011.3 665.5,1009.2 668.2,1007.5 671,1001.2 673.8,996.5 676.5,989.2 679.2,987.6 682,987.5 684.8,997 687.5,1012.9 690.2,1031.2 693,1030.1 695.8,1028.9 698.5,1031 701.2,1029.7 704,1029.3 706.8,1027.2 709.5,1030.7 712.2,1027 715,1025 717.8,1025.9 720.5,1021.3 723.2,1020.4 726,1022.4 728.8,1017 731.5,1018.4 734.2,1030.7 737,1041.1 739.8,1038.1 742.5,1033.6 745.2,1034.3 748,1034.5 750.8,1041.4 753.5,1043.2 756.2,1043.5 759,1047.4 761.8,1048.2 764.5,1051 767.2,1050.6 770,1049.2 772.8,1049.6 775.5,1046.9 778.2,1044.8 781,1041.3 783.8,1039 786.5,1036.4 789.2,1017.5 792,987.1 794.8,967.8 797.5,961.7 800.2,961 803,957.3 805.8,960.2 808.5,958.7 811.2,958 814,961.5 816.8,961.5 819.5,963.8 822.2,965.5 825,959.6 827.8,962.1 830.5,959.8 833.2,957.4 836,953.9 838.8,960.9 841.5,963.9 844.2,970.5 847,974.2 849.8,976.8 852.5,984.1 855.2,989 858,986.7 860.8,984.1 863.5,978.6 866.2,976.7 869,979 871.8,983.5 874.5,983.9 877.2,986.8 880,994.1 882.8,995.5 885.5,1001.9 888.2,1001.6 891,1001.3 893.8,1003.4 896.5,1005 899.2,1001.3 902,1003.5 904.8,1006 907.5,1003.9 910.2,1011.8 913,1019 915.8,1034 918.5,1038.2 921.2,1039.5 924,1039.1 926.8,1038.4 929.5,1036.7 932.2,1033.6 935,1032.8 937.8,1029.6 940.5,1026.6 943.2,1013.8 946,1004.4 948.8,1001.2 951.5,996.8 954.2,997.6 957,994.6 959.8,996.3 962.5,996.9 965.2,996.3 968,1002.8 970.8,1008.5 973.5,1015.1 976.2,1018.9 979,1013.6 981.8,1015.6 984.5,1013 987.2,1017.9 990,1021.9 992.8,1030.6 995.5,1042.4 998.2,1053.5 1001,1067.6 1003.8,1098.3 1006.5,1093.6 1009.2,1093.8 1012,1090.9 1014.8,1087.6 1017.5,1087.6 1020.2,1085.6 1023,1083.2 1025.8,1081.8 1028.5,1082.4 1031.2,1084.8 1034,1087.1 1036.8,1084.9 1039.5,1086.3 1042.2,1089.2 1045,1084.6 1047.8,1082.8 1050.5,1081.4 1053.2,1081.1 1056,1075.6 1058.8,1085 1061.5,1091.5 1064.2,1098.1 1067,1101.7 1069.8,1100.6 1072.5,1103.3 1075.2,1101.8 1078,1105.4 1080.8,1103.3 1083.5,1109 1086.2,1112.9 1089,1115.1 1091.8,1115.2 1094.5,1116 1097.2,1117.4 1100,1115.4 1102.8,1114.6 1105.5,1108.8 1108.2,1108.2 1111,1112.2 1113.8,1112.7 1116.5,1114.4 1119.2,1117.5 1122,1114.5 1124.8,1110.6 1127.5,1102.9 1130.2,1096.9 1133,1095.1 1135.8,1088.3 1138.5,1089 1141.2,1087.1 1144,1088 1146.8,1086.2" fill="none" stroke="#d62728" stroke-width="2.55" stroke-dasharray="9.44 4.08" stroke-linejoin="round" marker-start="url(#mr)" marker-mid="url(#mr)" marker-end="url(#mr)"/>
<rect x="66.7" y="907.9" width="1131.3" height="340.5" fill="none" stroke="#1a1a1a" stroke-width="1.36"/>
<text x="118.2" y="1273.4" font-size="18.0" text-anchor="middle" textLength="10.8" lengthAdjust="spacingAndGlyphs">0</text>
<text x="255.8" y="1273.4" font-size="18.0" text-anchor="middle" textLength="21.6" lengthAdjust="spacingAndGlyphs">50</text>
<text x="393.2" y="1273.4" font-size="18.0" text-anchor="middle" textLength="32.4" lengthAdjust="spacingAndGlyphs">100</text>
<text x="530.8" y="1273.4" font-size="18.0" text-anchor="middle" textLength="32.4" lengthAdjust="spacingAndGlyphs">150</text>
<text x="668.2" y="1273.4" font-size="18.0" text-anchor="middle" textLength="32.4" lengthAdjust="spacingAndGlyphs">200</text>
<text x="805.8" y="1273.4" font-size="18.0" text-anchor="middle" textLength="32.4" lengthAdjust="spacingAndGlyphs">250</text>
<text x="943.2" y="1273.4" font-size="18.0" text-anchor="middle" textLength="32.4" lengthAdjust="spacingAndGlyphs">300</text>
<text x="1080.8" y="1273.4" font-size="18.0" text-anchor="middle" textLength="32.4" lengthAdjust="spacingAndGlyphs">350</text>
<text x="54.8" y="952" font-size="18.0" text-anchor="end" textLength="27.0" lengthAdjust="spacingAndGlyphs">0.8</text>
<text x="54.8" y="1003.3" font-size="18.0" text-anchor="end" textLength="27.0" lengthAdjust="spacingAndGlyphs">0.7</text>
<text x="54.8" y="1054.6" font-size="18.0" text-anchor="end" textLength="27.0" lengthAdjust="spacingAndGlyphs">0.6</text>
<text x="54.8" y="1105.9" font-size="18.0" text-anchor="end" textLength="27.0" lengthAdjust="spacingAndGlyphs">0.5</text>
<text x="54.8" y="1157.2" font-size="18.0" text-anchor="end" textLength="27.0" lengthAdjust="spacingAndGlyphs">0.4</text>
<text x="54.8" y="1208.5" font-size="18.0" text-anchor="end" textLength="27.0" lengthAdjust="spacingAndGlyphs">0.3</text>
<path d="M118.2,1248.4v5.95M255.8,1248.4v5.95M393.2,1248.4v5.95M530.8,1248.4v5.95M668.2,1248.4v5.95M805.8,1248.4v5.95M943.2,1248.4v5.95M1080.8,1248.4v5.95M66.7,945.3h-5.95M66.7,996.6h-5.95M66.7,1047.9h-5.95M66.7,1099.2h-5.95M66.7,1150.5h-5.95M66.7,1201.8h-5.95" stroke="#1a1a1a" stroke-width="1.36" fill="none"/>
<text x="632.4" y="1297.4" font-size="17.8" text-anchor="middle" textLength="94.6" lengthAdjust="spacingAndGlyphs">Time Steps</text>
<text x="16" y="1078.2" font-size="17.8" text-anchor="middle" textLength="55.5" lengthAdjust="spacingAndGlyphs" transform="rotate(-90 16 1078.2)">Values</text>
<rect x="75.5" y="916.6" width="386.3" height="108.4" rx="3.4" fill="#fff" fill-opacity="0.8" stroke="#d9d9d9" stroke-width="1.7"/>
<path d="M82.3,930.6H116.3" stroke="#1f77b4" stroke-width="2.55" stroke-linecap="square"/>
<circle cx="99.3" cy="930.6" r="5.6" fill="#1f77b4"/>
<text x="129.6" y="936.9" font-size="17.8" textLength="97.1" lengthAdjust="spacingAndGlyphs">True Values</text>
<path d="M82.3,956.3H116.3" stroke="#ff7f0e" stroke-width="2.55" stroke-dasharray="9.44 4.08"/>
<path d="M94.2,951.2l10.2,10.2m0,-10.2l-10.2,10.2" stroke="#ff7f0e" stroke-width="1.7"/>
<text x="129.6" y="962.3" font-size="17.8" textLength="322.8" lengthAdjust="spacingAndGlyphs">Hybrid (1D-CNN + LSTM) - Predictions</text>
<path d="M82.3,982.3H116.3" stroke="#2ca02c" stroke-width="2.55" stroke-dasharray="9.44 4.08"/>
<path d="M94.2,977.2l10.2,10.2m0,-10.2l-10.2,10.2" stroke="#2ca02c" stroke-width="1.7"/>
<text x="129.6" y="988.3" font-size="17.8" textLength="255.1" lengthAdjust="spacingAndGlyphs">1D-CNN Baseline - Predictions</text>
<path d="M82.3,1007.9H116.3" stroke="#d62728" stroke-width="2.55" stroke-dasharray="9.44 4.08"/>
<path d="M94.2,1002.8l10.2,10.2m0,-10.2l-10.2,10.2" stroke="#d62728" stroke-width="1.7"/>
<text x="129.6" y="1013.9" font-size="17.8" textLength="233.0" lengthAdjust="spacingAndGlyphs">LSTM Baseline - Predictions</text>
</g>
<g>
<text x="632.4" y="1337" font-size="21.2" text-anchor="middle" textLength="430.0" lengthAdjust="spacingAndGlyphs">Model Predictions vs True Values on Day 4</text>
<polyline points="118.2,1630.2 121,1630.5 123.8,1628.6 126.5,1629.1 129.2,1626.1 132,1622.1 134.8,1622.5 137.5,1621.2 140.2,1617.4 143,1615.1 145.8,1616.2 148.5,1620.4 151.2,1621.2 154,1622.7 156.8,1621.8 159.5,1624 162.2,1624.6 165,1623.5 167.8,1625.6 170.5,1628.9 173.2,1630.7 176,1630.8 178.8,1631.7 181.5,1628.8 184.2,1626.8 187,1629.5 189.8,1629.4 192.5,1629.8 195.2,1626.2 198,1622.7 200.8,1616.6 203.5,1613.7 206.2,1609.6 209,1609.8 211.8,1606.9 214.5,1604.8 217.2,1605.5 220,1606.4 222.8,1605.7 225.5,1604.4 228.2,1601.2 231,1602.4 233.8,1600.5 236.5,1598 239.2,1597.9 242,1597 244.8,1598.2 247.5,1591.5 250.2,1574.6 253,1573 255.8,1577.8 258.5,1579.3 261.2,1579.6 264,1578.2 266.8,1580.8 269.5,1580.4 272.2,1584.3 275,1585 277.8,1584.2 280.5,1580.5 283.2,1578.8 286,1576 288.8,1578.3 291.5,1575.1 294.2,1574.7 297,1578.5 299.8,1576.8 302.5,1574.7 305.2,1574.8 308,1568.7 310.8,1566.1 313.5,1564.4 316.2,1559.1 319,1557.2 321.8,1553.2 324.5,1549.6 327.2,1548.6 330,1548 332.8,1547.6 335.5,1546.4 338.2,1547.2 341,1548.6 343.8,1549.1 346.5,1550.8 349.2,1554.2 352,1554.5 354.8,1558.3 357.5,1555.7 360.2,1554.5 363,1553.8 365.8,1549.6 368.5,1551.3 371.2,1548.7 374,1546.2 376.8,1548.1 379.5,1545.2 382.2,1546.5 385,1546.5 387.8,1547.4 390.5,1547.9 393.2,1545.7 396,1548.1 398.8,1549.3 401.5,1551.7 404.2,1552.9 407,1552.4 409.8,1553.6 412.5,1548.9 415.2,1549.7 418,1541.6 420.8,1520.8 423.5,1519.1 426.2,1520.1 429,1520.9 431.8,1519.1 434.5,1521.5 437.2,1520.1 440,1524.7 442.8,1527.4 445.5,1529 448.2,1530.8 451,1544.5 453.8,1560.9 456.5,1560 459.2,1556.6 462,1557.3 464.8,1556.4 467.5,1552.7 470.2,1553 473,1551 475.8,1548.2 478.5,1550.2 481.2,1549.1 484,1549.6 486.8,1552.8 489.5,1549.1 492.2,1544.1 495,1539.8 497.8,1537 500.5,1536.1 503.2,1529.4 506,1523.9 508.8,1519.7 511.5,1511.5 514.2,1505 517,1502 519.8,1496.1 522.5,1492.6 525.2,1489.1 528,1482.5 530.8,1480.8 533.5,1477.8 536.2,1477.6 539,1477.5 541.8,1476.8 544.5,1469 547.2,1460.7 550,1451.7 552.8,1442.7 555.5,1434.8 558.2,1429.5 561,1426.5 563.8,1423.1 566.5,1416.4 569.2,1405.9 572,1395.3 574.8,1386.6 577.5,1380 580.2,1377.3 583,1373.7 585.8,1369.7 588.5,1364.5 591.2,1364.2 594,1367.8 596.8,1378 599.5,1403.1 602.2,1414.6 605,1413.7 607.8,1433 610.5,1453 613.2,1430.4 616,1421.7 618.8,1420.5 621.5,1419 624.2,1417.2 627,1413.6 629.8,1414 632.5,1415.8 635.2,1413.4 638,1413.7 640.8,1409.5 643.5,1412 646.2,1419 649,1424.7 651.8,1443.6 654.5,1441.4 657.2,1440.3 660,1431.3 662.8,1416.5 665.5,1402.2 668.2,1416 671,1417.2 673.8,1422 676.5,1450.6 679.2,1479.6 682,1468.5 684.8,1462.3 687.5,1461.8 690.2,1460.5 693,1460.9 695.8,1460.2 698.5,1460.1 701.2,1459.4 704,1457.3 706.8,1453.1 709.5,1454.2 712.2,1451.8 715,1450.2 717.8,1449.1 720.5,1451.1 723.2,1454.3 726,1455.7 728.8,1457.4 731.5,1460.4 734.2,1460.2 737,1461.8 739.8,1463.2 742.5,1465.3 745.2,1470.6 748,1470.5 750.8,1474.5 753.5,1475.9 756.2,1480.6 759,1483.5 761.8,1482.4 764.5,1477.7 767.2,1473.4 770,1470.7 772.8,1464.4 775.5,1465 778.2,1416.8 781,1398 783.8,1391.6 786.5,1391.6 789.2,1389.7 792,1390 794.8,1385.5 797.5,1384.7 800.2,1382.5 803,1383.4 805.8,1388.6 808.5,1388.7 811.2,1391.1 814,1389.4 816.8,1388.8 819.5,1387.3 822.2,1386.4 825,1386.3 827.8,1386.5 830.5,1392.2 833.2,1393.7 836,1400.9 838.8,1402.5 841.5,1406.2 844.2,1411.3 847,1415 849.8,1415.2 852.5,1411.6 855.2,1411.2 858,1413.2 860.8,1414.8 863.5,1414.6 866.2,1417.7 869,1421.3 871.8,1422.9 874.5,1422.7 877.2,1426.4 880,1427.4 882.8,1427.1 885.5,1430.8 888.2,1429.3 891,1428 893.8,1430 896.5,1430.5 899.2,1437.6 902,1474 904.8,1477.7 907.5,1475.9 910.2,1472.5 913,1467.3 915.8,1465.8 918.5,1465.6 921.2,1463.3 924,1462.6 926.8,1457.4 929.5,1450.8 932.2,1427.6 935,1424.7 937.8,1424 940.5,1422.2 943.2,1422.1 946,1421.7 948.8,1421.5 951.5,1419.8 954.2,1422.2 957,1426.6 959.8,1459.3 962.5,1457.1 965.2,1454.3 968,1448.4 970.8,1444.5 973.5,1442.4 976.2,1446.1 979,1447.5 981.8,1465 984.5,1489.1 987.2,1508.7 990,1534.5 992.8,1530.1 995.5,1517.4 998.2,1514.1 1001,1513.8 1003.8,1510 1006.5,1510.2 1009.2,1510.3 1012,1510.2 1014.8,1508.5 1017.5,1509.4 1020.2,1513.5 1023,1515 1025.8,1515.2 1028.5,1514.9 1031.2,1517.3 1034,1515.6 1036.8,1515.7 1039.5,1511.3 1042.2,1507.7 1045,1503.4 1047.8,1503.7 1050.5,1508.1 1053.2,1536.4 1056,1532.9 1058.8,1532.6 1061.5,1528.6 1064.2,1529.5 1067,1526.5 1069.8,1528.4 1072.5,1533.8 1075.2,1537.7 1078,1555.1 1080.8,1557.1 1083.5,1553.9 1086.2,1548.8 1089,1544.4 1091.8,1543.5 1094.5,1541.2 1097.2,1538 1100,1540.1 1102.8,1540.8 1105.5,1542.5 1108.2,1543.8 1111,1541.1 1113.8,1532.9 1116.5,1528.3 1119.2,1522 1122,1519.8 1124.8,1516.1 1127.5,1516.4 1130.2,1514.7 1133,1510.9 1135.8,1510.9 1138.5,1510.7 1141.2,1511.3 1144,1514.1 1146.8,1515.8" fill="none" stroke="#1f77b4" stroke-width="2.55" stroke-linejoin="round" marker-start="url(#mb)" marker-mid="url(#mb)" marker-end="url(#mb)"/>
<polyline points="118.2,1665.5 121,1665.7 123.8,1667.3 126.5,1667.6 129.2,1668.8 132,1669.8 134.8,1672 137.5,1670.4 140.2,1667.3 143,1665.3 145.8,1662.9 148.5,1657.8 151.2,1655.9 154,1653.4 156.8,1654.4 159.5,1653.5 162.2,1655.3 165,1655.3 167.8,1659.9 170.5,1662.7 173.2,1663.9 176,1665.4 178.8,1668.1 181.5,1671.8 184.2,1669.1 187,1671.8 189.8,1674 192.5,1670 195.2,1668.3 198,1665.1 200.8,1665.3 203.5,1663.6 206.2,1664.3 209,1660.4 211.8,1656.2 214.5,1638.7 217.2,1634.5 220,1635.8 222.8,1637.1 225.5,1634.9 228.2,1632.5 231,1635 233.8,1632.5 236.5,1628.4 239.2,1628.3 242,1628.6 244.8,1624.7 247.5,1621.5 250.2,1621.3 253,1617.4 255.8,1614.2 258.5,1612.6 261.2,1602.7 264,1598.1 266.8,1597.2 269.5,1595.7 272.2,1595.6 275,1600.6 277.8,1601.7 280.5,1600.7 283.2,1601.8 286,1601.7 288.8,1598.3 291.5,1595.9 294.2,1596.8 297,1595.2 299.8,1592.4 302.5,1592.7 305.2,1587.7 308,1589.6 310.8,1589.8 313.5,1591.1 316.2,1592.4 319,1586.1 321.8,1581.9 324.5,1580.4 327.2,1577.2 330,1568.9 332.8,1568.3 335.5,1564.8 338.2,1564.9 341,1557.4 343.8,1559.2 346.5,1561 349.2,1564.7 352,1570.8 354.8,1571.8 357.5,1568.9 360.2,1569.9 363,1572.8 365.8,1569.4 368.5,1571.7 371.2,1573.7 374,1569.5 376.8,1567.8 379.5,1564.6 382.2,1562.1 385,1565.5 387.8,1566.6 390.5,1566.5 393.2,1564.1 396,1559.8 398.8,1555 401.5,1556.8 404.2,1562.3 407,1562.4 409.8,1563.9 412.5,1566.1 415.2,1565 418,1565.2 420.8,1562.5 423.5,1556.8 426.2,1551.9 429,1542.1 431.8,1536.8 434.5,1529.8 437.2,1530.1 440,1532.6 442.8,1533.7 445.5,1535.1 448.2,1539.3 451,1538.5 453.8,1542.8 456.5,1545.9 459.2,1545.6 462,1552.9 464.8,1555.5 467.5,1562 470.2,1563.3 473,1568 475.8,1566.1 478.5,1567.6 481.2,1567.5 484,1566.7 486.8,1561.4 489.5,1561 492.2,1560.1 495,1562.5 497.8,1563.5 500.5,1564.1 503.2,1555.5 506,1555.6 508.8,1550.6 511.5,1544.9 514.2,1535.9 517,1530.8 519.8,1527.9 522.5,1523.8 525.2,1518.3 528,1511.2 530.8,1511.1 533.5,1509.5 536.2,1507.6 539,1501.4 541.8,1501.3 544.5,1498.7 547.2,1492 550,1489.1 552.8,1489.1 555.5,1485.8 558.2,1482.8 561,1472 563.8,1458.8 566.5,1450.6 569.2,1449.4 572,1448.7 574.8,1441 577.5,1437.3 580.2,1432.8 583,1424 585.8,1416.6 588.5,1401.9 591.2,1390.8 594,1389 596.8,1386.4 599.5,1383.5 602.2,1380.5 605,1378.4 607.8,1383.8 610.5,1398.7 613.2,1411.7 616,1421.7 618.8,1435.1 621.5,1438.7 624.2,1440.8 627,1438.4 629.8,1432.1 632.5,1430.1 635.2,1431.8 638,1428.6 640.8,1423.4 643.5,1422.8 646.2,1426.2 649,1424.3 651.8,1428 654.5,1428.3 657.2,1438.3 660,1447.7 662.8,1454.1 665.5,1451.1 668.2,1449.2 671,1445.4 673.8,1439.5 676.5,1431.8 679.2,1429.9 682,1433.3 684.8,1442.1 687.5,1461.2 690.2,1480.3 693,1475.5 695.8,1473.8 698.5,1473.4 701.2,1473.3 704,1476.1 706.8,1471.8 709.5,1471.4 712.2,1471.5 715,1472.1 717.8,1469.4 720.5,1469.2 723.2,1468.1 726,1464 728.8,1464.5 731.5,1463.2 734.2,1471.8 737,1480.9 739.8,1482.4 742.5,1475.3 745.2,1474.1 748,1475.2 750.8,1479.1 753.5,1483 756.2,1484.5 759,1488.7 761.8,1488.9 764.5,1491.2 767.2,1489.6 770,1489.5 772.8,1489.1 775.5,1488.7 778.2,1486 781,1480.8 783.8,1479.1 786.5,1476.7 789.2,1457.6 792,1428.9 794.8,1409.9 797.5,1402.1 800.2,1399.6 803,1398.6 805.8,1395.2 808.5,1399.8 811.2,1400.5 814,1402.1 816.8,1403.8 819.5,1402.9 822.2,1403.3 825,1403.2 827.8,1401.6 830.5,1402 833.2,1397.9 836,1400 838.8,1402.8 841.5,1409.5 844.2,1413.8 847,1419.3 849.8,1421.1 852.5,1429.1 855.2,1434 858,1432.1 860.8,1428.8 863.5,1428.6 866.2,1424 869,1429.4 871.8,1428.1 874.5,1431.9 877.2,1433.2 880,1441.4 882.8,1441.1 885.5,1445 888.2,1447 891,1447 893.8,1445.3 896.5,1450 899.2,1446.1 902,1446.8 904.8,1446.2 907.5,1445.3 910.2,1452.2 913,1464.5 915.8,1474.5 918.5,1479.2 921.2,1480.1 924,1483.1 926.8,1478.7 929.5,1476.5 932.2,1473 935,1472.4 937.8,1468.7 940.5,1465.2 943.2,1454.7 946,1446 948.8,1443.3 951.5,1441.6 954.2,1437.1 957,1433.6 959.8,1432.4 962.5,1435.4 965.2,1437.7 968,1442.3 970.8,1447.9 973.5,1458.7 976.2,1460.3 979,1459 981.8,1461 984.5,1459.8 987.2,1462.7 990,1467.3 992.8,1476.7 995.5,1488.5 998.2,1496.3 1001,1513.7 1003.8,1564 1006.5,1533.7 1009.2,1533 1012,1528.3 1014.8,1528.4 1017.5,1526.4 1020.2,1528.9 1023,1526.3 1025.8,1525.6 1028.5,1526.2 1031.2,1526.6 1034,1525.4 1036.8,1526.7 1039.5,1528.1 1042.2,1527.7 1045,1527.2 1047.8,1523.6 1050.5,1524.6 1053.2,1522.2 1056,1521.1 1058.8,1526.3 1061.5,1532.3 1064.2,1537.9 1067,1542.1 1069.8,1540.7 1072.5,1542.5 1075.2,1543.6 1078,1544.6 1080.8,1544.5 1083.5,1546.2 1086.2,1549.7 1089,1552.6 1091.8,1559.1 1094.5,1557.8 1097.2,1560.5 1100,1558.1 1102.8,1559.1 1105.5,1556.6 1108.2,1554.9 1111,1552.9 1113.8,1559 1116.5,1559.3 1119.2,1559 1122,1556.4 1124.8,1553.4 1127.5,1546.7 1130.2,1540.7 1133,1535.9 1135.8,1529.1 1138.5,1527.7 1141.2,1528.1 1144,1527.5 1146.8,1530.4" fill="none" stroke="#ff7f0e" stroke-width="2.55" stroke-dasharray="9.44 4.08" stroke-linejoin="round" marker-start="url(#mo)" marker-mid="url(#mo)" marker-end="url(#mo)"/>
<polyline points="118.2,1643.5 121,1649.4 123.8,1646.3 126.5,1649.9 129.2,1648.6 132,1646.2 134.8,1647.2 137.5,1649.5 140.2,1645.7 143,1643.1 145.8,1640.1 148.5,1640.1 151.2,1641 154,1637.2 156.8,1641.8 159.5,1642.8 162.2,1643.3 165,1644.9 167.8,1641.1 170.5,1647.1 173.2,1644.7 176,1650.7 178.8,1651.4 181.5,1651.3 184.2,1648.8 187,1649.4 189.8,1653 192.5,1653.7 195.2,1651.1 198,1649.5 200.8,1653.9 203.5,1652.6 206.2,1650.1 209,1648.2 211.8,1637.8 214.5,1632.1 217.2,1631.3 220,1627.8 222.8,1627.1 225.5,1624.7 228.2,1628.2 231,1623.5 233.8,1630.9 236.5,1621.4 239.2,1619.6 242,1614.6 244.8,1615.8 247.5,1612.4 250.2,1615.5 253,1609.9 255.8,1611.5 258.5,1603.9 261.2,1599 264,1595.7 266.8,1597 269.5,1598.3 272.2,1602.2 275,1600.2 277.8,1603.7 280.5,1605.1 283.2,1604.6 286,1604.8 288.8,1603.2 291.5,1604.8 294.2,1602 297,1600.9 299.8,1596.9 302.5,1596.5 305.2,1593.6 308,1597.5 310.8,1595.6 313.5,1598.6 316.2,1597.9 319,1593.2 321.8,1586 324.5,1584.9 327.2,1577.7 330,1574.2 332.8,1573.9 335.5,1571.3 338.2,1567.8 341,1561.9 343.8,1560.4 346.5,1563.4 349.2,1567.6 352,1576 354.8,1578 357.5,1572.3 360.2,1574.8 363,1571.7 365.8,1574.6 368.5,1571.9 371.2,1577.2 374,1573.3 376.8,1572.1 379.5,1564.1 382.2,1565.3 385,1562.7 387.8,1563.5 390.5,1565.1 393.2,1564.5 396,1560.8 398.8,1558.9 401.5,1561.8 404.2,1566.9 407,1566.4 409.8,1569.1 412.5,1569 415.2,1568.6 418,1576.6 420.8,1571.2 423.5,1563.8 426.2,1555.5 429,1549 431.8,1542.3 434.5,1548.5 437.2,1539.1 440,1540 442.8,1537.5 445.5,1539.5 448.2,1540.1 451,1544 453.8,1545.4 456.5,1552 459.2,1552.6 462,1559.1 464.8,1562.8 467.5,1567.6 470.2,1572.4 473,1573.9 475.8,1572.6 478.5,1570.1 481.2,1570.4 484,1567.9 486.8,1569.1 489.5,1565.4 492.2,1567.5 495,1567.7 497.8,1570.8 500.5,1570.5 503.2,1565.8 506,1560.1 508.8,1558.8 511.5,1547.4 514.2,1543.8 517,1537.7 519.8,1528.9 522.5,1525 525.2,1520.7 528,1514.6 530.8,1512.5 533.5,1511.6 536.2,1509.7 539,1517.3 541.8,1502.1 544.5,1498.3 547.2,1494.7 550,1490.5 552.8,1490.5 555.5,1489.2 558.2,1483.9 561,1476.2 563.8,1463.3 566.5,1454.8 569.2,1447.3 572,1444.5 574.8,1438.7 577.5,1434.3 580.2,1432.9 583,1422.1 585.8,1412.7 588.5,1402.3 591.2,1391.8 594,1388.1 596.8,1384.7 599.5,1382.7 602.2,1382.5 605,1383.9 607.8,1389.1 610.5,1401.6 613.2,1416.8 616,1426.3 618.8,1440.7 621.5,1446.6 624.2,1443.6 627,1441.8 629.8,1442.6 632.5,1435.2 635.2,1435.2 638,1432.1 640.8,1426.3 643.5,1424.3 646.2,1426.9 649,1432.2 651.8,1432.1 654.5,1435.2 657.2,1441.8 660,1450.9 662.8,1453.6 665.5,1453.4 668.2,1453.6 671,1448.1 673.8,1443.5 676.5,1439.3 679.2,1438.1 682,1439.4 684.8,1447.3 687.5,1464.9 690.2,1477.8 693,1477.3 695.8,1477.2 698.5,1474.2 701.2,1475.9 704,1475.3 706.8,1477.2 709.5,1475.3 712.2,1475.9 715,1470.9 717.8,1472.9 720.5,1465.7 723.2,1466.1 726,1465 728.8,1473.2 731.5,1462.3 734.2,1475.5 737,1482.7 739.8,1485.9 742.5,1482.7 745.2,1480.2 748,1482.7 750.8,1488.6 753.5,1495.5 756.2,1496.6 759,1497.5 761.8,1496.5 764.5,1502.4 767.2,1497 770,1496 772.8,1497.3 775.5,1493.7 778.2,1494.4 781,1490.3 783.8,1484 786.5,1483.4 789.2,1467 792,1440.8 794.8,1418.8 797.5,1410.3 800.2,1406 803,1407.4 805.8,1407.5 808.5,1409.5 811.2,1408.7 814,1413.6 816.8,1414.2 819.5,1417.1 822.2,1410.3 825,1413.8 827.8,1409.9 830.5,1408.3 833.2,1406.1 836,1405.5 838.8,1414.2 841.5,1417.2 844.2,1419 847,1429.9 849.8,1434 852.5,1440.9 855.2,1445.6 858,1440 860.8,1436.9 863.5,1437.7 866.2,1432.2 869,1434.4 871.8,1439.3 874.5,1440.3 877.2,1443.4 880,1444.9 882.8,1450.1 885.5,1449.7 888.2,1453.1 891,1451.4 893.8,1462 896.5,1453.6 899.2,1452.6 902,1452.7 904.8,1451.5 907.5,1451.2 910.2,1459.5 913,1468.6 915.8,1476.6 918.5,1487.3 921.2,1485.9 924,1487.3 926.8,1487.3 929.5,1484.4 932.2,1484 935,1474.9 937.8,1471.8 940.5,1468.1 943.2,1457.3 946,1448.8 948.8,1443.3 951.5,1443.1 954.2,1439.4 957,1435.3 959.8,1437.5 962.5,1440.7 965.2,1442.4 968,1447.2 970.8,1454 973.5,1457.8 976.2,1462.3 979,1461.4 981.8,1460 984.5,1465.1 987.2,1469.2 990,1475.2 992.8,1478.7 995.5,1489 998.2,1504.6 1001,1518.5 1003.8,1547 1006.5,1548.2 1009.2,1539.4 1012,1536.6 1014.8,1537 1017.5,1536.5 1020.2,1531.5 1023,1534.8 1025.8,1533.6 1028.5,1532.3 1031.2,1536.2 1034,1536.7 1036.8,1535.1 1039.5,1537.9 1042.2,1534.5 1045,1533.9 1047.8,1530.7 1050.5,1529.8 1053.2,1527.6 1056,1522.2 1058.8,1530.3 1061.5,1535 1064.2,1544.6 1067,1545.9 1069.8,1546.8 1072.5,1548 1075.2,1550.4 1078,1549.9 1080.8,1548.1 1083.5,1552.5 1086.2,1551.3 1089,1555.9 1091.8,1558.9 1094.5,1560.5 1097.2,1561.3 1100,1558.6 1102.8,1556.6 1105.5,1556.5 1108.2,1552.7 1111,1557.2 1113.8,1558.8 1116.5,1561.1 1119.2,1564.8 1122,1559.8 1124.8,1556.3 1127.5,1548.3 1130.2,1546.5 1133,1543.1 1135.8,1539 1138.5,1537.3 1141.2,1534.2 1144,1536.8 1146.8,1535.4" fill="none" stroke="#2ca02c" stroke-width="2.55" stroke-dasharray="9.44 4.08" stroke-linejoin="round" marker-start="url(#mg)" marker-mid="url(#mg)" marker-end="url(#mg)"/>
<polyline points="118.2,1641 121,1645.4 123.8,1646.3 126.5,1648.6 129.2,1644.2 132,1648 134.8,1647.3 137.5,1644.5 140.2,1645.5 143,1645.5 145.8,1641.3 148.5,1641.8 151.2,1640.5 154,1639.6 156.8,1637.9 159.5,1640.9 162.2,1644.2 165,1642.4 167.8,1643.8 170.5,1648.4 173.2,1649.4 176,1650.3 178.8,1646.8 181.5,1652.1 184.2,1651.4 187,1650.1 189.8,1653.9 192.5,1650.1 195.2,1648.8 198,1648.1 200.8,1648.6 203.5,1648.2 206.2,1648.6 209,1641.2 211.8,1633.7 214.5,1632 217.2,1628.1 220,1624.7 222.8,1626.5 225.5,1627.7 228.2,1623.3 231,1624 233.8,1622 236.5,1623.7 239.2,1620.5 242,1622.7 244.8,1616.9 247.5,1615.4 250.2,1614.1 253,1612.5 255.8,1606.1 258.5,1602.9 261.2,1594.9 264,1588.9 266.8,1592.4 269.5,1591.6 272.2,1590.7 275,1595.5 277.8,1595.1 280.5,1597.3 283.2,1597.5 286,1594.3 288.8,1594.1 291.5,1593 294.2,1592.6 297,1592.5 299.8,1586.7 302.5,1588.3 305.2,1585 308,1587.9 310.8,1586.5 313.5,1588.8 316.2,1587.2 319,1585.3 321.8,1582.6 324.5,1579 327.2,1570.5 330,1567.5 332.8,1565.9 335.5,1562 338.2,1559.1 341,1558.9 343.8,1560 346.5,1559.9 349.2,1565.9 352,1566.8 354.8,1571.1 357.5,1570.7 360.2,1571.4 363,1573.7 365.8,1572 368.5,1573.6 371.2,1571.3 374,1567.1 376.8,1566.5 379.5,1558.2 382.2,1561.6 385,1563.1 387.8,1563.3 390.5,1562.4 393.2,1558.6 396,1559.8 398.8,1555.4 401.5,1557.4 404.2,1559.5 407,1561.1 409.8,1560.4 412.5,1561.4 415.2,1562.1 418,1565.8 420.8,1564.1 423.5,1558.8 426.2,1550.9 429,1543 431.8,1540 434.5,1531 437.2,1531.3 440,1534.7 442.8,1537.7 445.5,1538.5 448.2,1538.6 451,1541.1 453.8,1542.6 456.5,1544.1 459.2,1547.8 462,1551.7 464.8,1556.1 467.5,1561 470.2,1564.9 473,1569.6 475.8,1570.6 478.5,1568.7 481.2,1568.3 484,1566.9 486.8,1564 489.5,1566.3 492.2,1562.6 495,1562 497.8,1561.4 500.5,1560 503.2,1560.1 506,1553.9 508.8,1549.1 511.5,1544 514.2,1538.1 517,1533.4 519.8,1529.6 522.5,1520 525.2,1519 528,1515.2 530.8,1507.8 533.5,1508.5 536.2,1503.1 539,1501 541.8,1496.5 544.5,1492.6 547.2,1490.8 550,1488.1 552.8,1486.2 555.5,1487.4 558.2,1484.7 561,1473.8 563.8,1457.9 566.5,1450.1 569.2,1446.6 572,1442.5 574.8,1439.4 577.5,1434.9 580.2,1429.5 583,1421.4 585.8,1411.7 588.5,1401.6 591.2,1390.2 594,1387.2 596.8,1382.8 599.5,1383.7 602.2,1379.2 605,1375.9 607.8,1385.7 610.5,1398.8 613.2,1412.2 616,1421.8 618.8,1432 621.5,1438.2 624.2,1437.4 627,1436 629.8,1428.1 632.5,1429.8 635.2,1424.8 638,1421.8 640.8,1419.8 643.5,1417.3 646.2,1422.9 649,1424.6 651.8,1424.4 654.5,1426.2 657.2,1436.8 660,1447.3 662.8,1451.3 665.5,1451 668.2,1447.9 671,1445.7 673.8,1439.5 676.5,1432.1 679.2,1427.4 682,1435.9 684.8,1438.8 687.5,1459.3 690.2,1473.9 693,1470.8 695.8,1472.7 698.5,1470.8 701.2,1469.4 704,1468.1 706.8,1470.6 709.5,1468.9 712.2,1469.5 715,1464.8 717.8,1466 720.5,1462 723.2,1462.6 726,1458.9 728.8,1457.4 731.5,1459.8 734.2,1467.8 737,1481.4 739.8,1476.2 742.5,1475.3 745.2,1475.9 748,1471.7 750.8,1481.2 753.5,1483 756.2,1486.9 759,1487.6 761.8,1490.7 764.5,1490.5 767.2,1490.6 770,1490.1 772.8,1491.7 775.5,1492.2 778.2,1486 781,1484.9 783.8,1478.2 786.5,1475.3 789.2,1457.7 792,1431.2 794.8,1408.9 797.5,1400.3 800.2,1397.1 803,1395.6 805.8,1397.6 808.5,1395.8 811.2,1394.9 814,1396.2 816.8,1397.8 819.5,1400.1 822.2,1399.8 825,1400.9 827.8,1395.7 830.5,1396.1 833.2,1395.6 836,1394.2 838.8,1398 841.5,1404.7 844.2,1409.6 847,1413.4 849.8,1419.6 852.5,1425.8 855.2,1430.8 858,1428.9 860.8,1425.6 863.5,1420.5 866.2,1421.1 869,1425.4 871.8,1425.4 874.5,1428.5 877.2,1429.8 880,1433.6 882.8,1438.1 885.5,1438.9 888.2,1440.6 891,1440.6 893.8,1439.9 896.5,1442.7 899.2,1445.2 902,1444.3 904.8,1443.4 907.5,1446 910.2,1452.7 913,1460.9 915.8,1470.9 918.5,1478.6 921.2,1482.4 924,1482.6 926.8,1481.3 929.5,1478.9 932.2,1478.5 935,1474.9 937.8,1471.8 940.5,1464.2 943.2,1450.6 946,1443.4 948.8,1437.2 951.5,1438.2 954.2,1435.9 957,1433.4 959.8,1435 962.5,1435.6 965.2,1435.2 968,1438.1 970.8,1449 973.5,1454.3 976.2,1459.5 979,1455.2 981.8,1455.9 984.5,1454.5 987.2,1457.4 990,1463.5 992.8,1471.5 995.5,1484.4 998.2,1497.6 1001,1509.8 1003.8,1536 1006.5,1533.2 1009.2,1532.4 1012,1528 1014.8,1528 1017.5,1527.8 1020.2,1526.9 1023,1528.5 1025.8,1525.1 1028.5,1526.9 1031.2,1524.5 1034,1526.9 1036.8,1525.5 1039.5,1527.2 1042.2,1527.5 1045,1526.1 1047.8,1522.9 1050.5,1522.3 1053.2,1520.4 1056,1517.6 1058.8,1524.7 1061.5,1528.4 1064.2,1536.5 1067,1538.8 1069.8,1537.5 1072.5,1538.7 1075.2,1540.5 1078,1539.6 1080.8,1543.8 1083.5,1548.7 1086.2,1551.6 1089,1552.2 1091.8,1559.3 1094.5,1562.5 1097.2,1558.3 1100,1556.9 1102.8,1558.4 1105.5,1553.2 1108.2,1554.4 1111,1555.6 1113.8,1554.1 1116.5,1555.6 1119.2,1556.2 1122,1553.2 1124.8,1548.4 1127.5,1543.6 1130.2,1537.2 1133,1532.1 1135.8,1525.7 1138.5,1524.3 1141.2,1527.2 1144,1529.5 1146.8,1527.4" fill="none" stroke="#d62728" stroke-width="2.55" stroke-dasharray="9.44 4.08" stroke-linejoin="round" marker-start="url(#mr)" marker-mid="url(#mr)" marker-end="url(#mr)"/>
<rect x="66.7" y="1347.2" width="1131.3" height="340.5" fill="none" stroke="#1a1a1a" stroke-width="1.36"/>
<text x="118.2" y="1712.7" font-size="18.0" text-anchor="middle" textLength="10.8" lengthAdjust="spacingAndGlyphs">0</text>
<text x="255.8" y="1712.7" font-size="18.0" text-anchor="middle" textLength="21.6" lengthAdjust="spacingAndGlyphs">50</text>
<text x="393.2" y="1712.7" font-size="18.0" text-anchor="middle" textLength="32.4" lengthAdjust="spacingAndGlyphs">100</text>
<text x="530.8" y="1712.7" font-size="18.0" text-anchor="middle" textLength="32.4" lengthAdjust="spacingAndGlyphs">150</text>
<text x="668.2" y="1712.7" font-size="18.0" text-anchor="middle" textLength="32.4" lengthAdjust="spacingAndGlyphs">200</text>
<text x="805.8" y="1712.7" font-size="18.0" text-anchor="middle" textLength="32.4" lengthAdjust="spacingAndGlyphs">250</text>
<text x="943.2" y="1712.7" font-size="18.0" text-anchor="middle" textLength="32.4" lengthAdjust="spacingAndGlyphs">300</text>
<text x="1080.8" y="1712.7" font-size="18.0" text-anchor="middle" textLength="32.4" lengthAdjust="spacingAndGlyphs">350</text>
<text x="54.8" y="1391.6" font-size="18.0" text-anchor="end" textLength="27.0" lengthAdjust="spacingAndGlyphs">0.8</text>
<text x="54.8" y="1443" font-size="18.0" text-anchor="end" textLength="27.0" lengthAdjust="spacingAndGlyphs">0.7</text>
<text x="54.8" y="1494.3" font-size="18.0" text-anchor="end" textLength="27.0" lengthAdjust="spacingAndGlyphs">0.6</text>
<text x="54.8" y="1545.7" font-size="18.0" text-anchor="end" textLength="27.0" lengthAdjust="spacingAndGlyphs">0.5</text>
<text x="54.8" y="1597" font-size="18.0" text-anchor="end" textLength="27.0" lengthAdjust="spacingAndGlyphs">0.4</text>
<text x="54.8" y="1648.4" font-size="18.0" text-anchor="end" textLength="27.0" lengthAdjust="spacingAndGlyphs">0.3</text>
<path d="M118.2,1687.7v5.95M255.8,1687.7v5.95M393.2,1687.7v5.95M530.8,1687.7v5.95M668.2,1687.7v5.95M805.8,1687.7v5.95M943.2,1687.7v5.95M1080.8,1687.7v5.95M66.7,1384.9h-5.95M66.7,1436.2h-5.95M66.7,1487.6h-5.95M66.7,1539h-5.95M66.7,1590.3h-5.95M66.7,1641.7h-5.95" stroke="#1a1a1a" stroke-width="1.36" fill="none"/>
<text x="632.4" y="1736.7" font-size="17.8" text-anchor="middle" textLength="94.6" lengthAdjust="spacingAndGlyphs">Time Steps</text>
<text x="16" y="1517.5" font-size="17.8" text-anchor="middle" textLength="55.5" lengthAdjust="spacingAndGlyphs" transform="rotate(-90 16 1517.5)">Values</text>
<rect x="75.5" y="1355.9" width="386.3" height="108.4" rx="3.4" fill="#fff" fill-opacity="0.8" stroke="#d9d9d9" stroke-width="1.7"/>
<path d="M82.3,1369.9H116.3" stroke="#1f77b4" stroke-width="2.55" stroke-linecap="square"/>
<circle cx="99.3" cy="1369.9" r="5.6" fill="#1f77b4"/>
<text x="129.6" y="1376.2" font-size="17.8" textLength="97.1" lengthAdjust="spacingAndGlyphs">True Values</text>
<path d="M82.3,1395.6H116.3" stroke="#ff7f0e" stroke-width="2.55" stroke-dasharray="9.44 4.08"/>
<path d="M94.2,1390.5l10.2,10.2m0,-10.2l-10.2,10.2" stroke="#ff7f0e" stroke-width="1.7"/>
<text x="129.6" y="1401.6" font-size="17.8" textLength="322.8" lengthAdjust="spacingAndGlyphs">Hybrid (1D-CNN + LSTM) - Predictions</text>
<path d="M82.3,1421.6H116.3" stroke="#2ca02c" stroke-width="2.55" stroke-dasharray="9.44 4.08"/>
<path d="M94.2,1416.5l10.2,10.2m0,-10.2l-10.2,10.2" stroke="#2ca02c" stroke-width="1.7"/>
<text x="129.6" y="1427.6" font-size="17.8" textLength="255.1" lengthAdjust="spacingAndGlyphs">1D-CNN Baseline - Predictions</text>
<path d="M82.3,1447.2H116.3" stroke="#d62728" stroke-width="2.55" stroke-dasharray="9.44 4.08"/>
<path d="M94.2,1442.1l10.2,10.2m0,-10.2l-10.2,10.2" stroke="#d62728" stroke-width="1.7"/>
<text x="129.6" y="1453.2" font-size="17.8" textLength="233.0" lengthAdjust="spacingAndGlyphs">LSTM Baseline - Predictions</text>
</g>
<g>
<text x="632.4" y="1776.3" font-size="21.2" text-anchor="middle" textLength="430.0" lengthAdjust="spacingAndGlyphs">Model Predictions vs True Values on Day 5</text>
<polyline points="118.2,2070.3 121,2070.5 123.8,2069.6 126.5,2065.1 129.2,2064.2 132,2062.9 134.8,2057.9 137.5,2056.9 140.2,2054 143,2056.8 145.8,2061.2 148.5,2062.4 151.2,2061.4 154,2063.8 156.8,2064.9 159.5,2063.1 162.2,2063.1 165,2065.5 167.8,2067.3 170.5,2070.1 173.2,2071.1 176,2071.2 178.8,2067.9 181.5,2067.1 184.2,2067.6 187,2068.6 189.8,2066.5 192.5,2063.8 195.2,2062.5 198,2054 200.8,2053.4 203.5,2048.6 206.2,2050 209,2045.4 211.8,2047.1 214.5,2044.3 217.2,2046.5 220,2046.3 222.8,2042.9 225.5,2039.6 228.2,2041.9 231,2038.6 233.8,2039.2 236.5,2038.8 239.2,2036 242,2037.2 244.8,2030.3 247.5,2014.9 250.2,2013.2 253,2016.1 255.8,2017.5 258.5,2016.7 261.2,2018.9 264,2019.4 266.8,2019.7 269.5,2023.6 272.2,2024.8 275,2022.4 277.8,2020.1 280.5,2019.6 283.2,2016.7 286,2018.3 288.8,2015.6 291.5,2015.2 294.2,2017 297,2018.7 299.8,2016.1 302.5,2012 305.2,2008.8 308,2007.2 310.8,2005.1 313.5,1999.3 316.2,1996.7 319,1993.2 321.8,1987.1 324.5,1986.7 327.2,1985.4 330,1985 332.8,1986.2 335.5,1988.8 338.2,1988.4 341,1991.5 343.8,1989.7 346.5,1992.6 349.2,1994.9 352,1998.9 354.8,1997.1 357.5,1993.8 360.2,1992.4 363,1992.8 365.8,1990.3 368.5,1987.1 371.2,1987.8 374,1988.1 376.8,1986.1 379.5,1983.3 382.2,1985 385,1984.2 387.8,1985.9 390.5,1987.8 393.2,1987.3 396,1986.2 398.8,1990 401.5,1991.9 404.2,1992.2 407,1991.7 409.8,1990.7 412.5,1988.2 415.2,1980.3 418,1963.2 420.8,1957.3 423.5,1959.8 426.2,1957.2 429,1960.3 431.8,1961.2 434.5,1960 437.2,1963.2 440,1965.5 442.8,1969.6 445.5,1970.3 448.2,1985.2 451,2000.6 453.8,1998.4 456.5,1997.6 459.2,1994.9 462,1994.1 464.8,1992.6 467.5,1992.8 470.2,1991.8 473,1987.6 475.8,1990.6 478.5,1988.9 481.2,1992.6 484,1990.7 486.8,1986.9 489.5,1985.7 492.2,1979.8 495,1977.3 497.8,1973.5 500.5,1971.3 503.2,1964.3 506,1957.6 508.8,1951.4 511.5,1948 514.2,1940.9 517,1935.4 519.8,1931.9 522.5,1927.7 525.2,1921.7 528,1918.6 530.8,1914.2 533.5,1917.5 536.2,1918.6 539,1916.9 541.8,1907.9 544.5,1902.4 547.2,1890.4 550,1881.5 552.8,1875.8 555.5,1870.4 558.2,1867.2 561,1864 563.8,1855.7 566.5,1843.7 569.2,1832.4 572,1824.4 574.8,1821.5 577.5,1819.5 580.2,1812.9 583,1807.6 585.8,1803.4 588.5,1807 591.2,1806 594,1815.6 596.8,1843.2 599.5,1856 602.2,1853.2 605,1872.7 607.8,1894.9 610.5,1872.3 613.2,1863.2 616,1858.3 618.8,1858.5 621.5,1856 624.2,1855.6 627,1855.5 629.8,1853.8 632.5,1853.6 635.2,1851.7 638,1849.6 640.8,1849.8 643.5,1856.2 646.2,1864.6 649,1883.3 651.8,1882 654.5,1879.7 657.2,1870.7 660,1857 662.8,1845.1 665.5,1854.4 668.2,1858.7 671,1863.1 673.8,1887.4 676.5,1917.5 679.2,1908.8 682,1902.6 684.8,1902.5 687.5,1901.7 690.2,1900.2 693,1902.5 695.8,1898 698.5,1897.5 701.2,1896.7 704,1892.7 706.8,1891 709.5,1890.9 712.2,1888.7 715,1888.9 717.8,1889.9 720.5,1896.2 723.2,1896.6 726,1897.5 728.8,1899.7 731.5,1901.9 734.2,1902.1 737,1904 739.8,1906.3 742.5,1907.7 745.2,1912.2 748,1914.5 750.8,1915.2 753.5,1920.1 756.2,1921.3 759,1920.7 761.8,1918 764.5,1912.8 767.2,1909 770,1906.5 772.8,1906.3 775.5,1854.7 778.2,1837.6 781,1833.6 783.8,1830.5 786.5,1829.3 789.2,1829.6 792,1825.5 794.8,1822.8 797.5,1821.8 800.2,1823.2 803,1828.5 805.8,1827.3 808.5,1829 811.2,1830.2 814,1827.2 816.8,1826.6 819.5,1826 822.2,1823.5 825,1826.7 827.8,1831.9 830.5,1833 833.2,1838.3 836,1842.5 838.8,1847.6 841.5,1852.9 844.2,1856.2 847,1854.2 849.8,1851.3 852.5,1849.2 855.2,1852.4 858,1855.4 860.8,1856.3 863.5,1858.2 866.2,1859 869,1862.4 871.8,1864.2 874.5,1864.8 877.2,1865.9 880,1869.6 882.8,1868.6 885.5,1870.7 888.2,1868.9 891,1870.4 893.8,1868.7 896.5,1875.9 899.2,1912.1 902,1919.2 904.8,1916.7 907.5,1912.8 910.2,1908.7 913,1907.4 915.8,1905.3 918.5,1905.1 921.2,1901.3 924,1900.1 926.8,1892.6 929.5,1870 932.2,1865.2 935,1863.5 937.8,1864.4 940.5,1863 943.2,1859.7 946,1860.8 948.8,1860.6 951.5,1860.3 954.2,1867.9 957,1900.6 959.8,1897.5 962.5,1893.6 965.2,1889.3 968,1883.9 970.8,1882.6 973.5,1887.2 976.2,1887 979,1904.9 981.8,1927.3 984.5,1946.8 987.2,1975.2 990,1971.2 992.8,1959.7 995.5,1955.8 998.2,1953.2 1001,1953 1003.8,1951 1006.5,1948.3 1009.2,1948.3 1012,1948.5 1014.8,1948.3 1017.5,1950.2 1020.2,1955.1 1023,1953.9 1025.8,1955.5 1028.5,1954.4 1031.2,1955 1034,1957.4 1036.8,1952.3 1039.5,1946.2 1042.2,1942.4 1045,1946.5 1047.8,1946.9 1050.5,1977.5 1053.2,1973.6 1056,1970.3 1058.8,1968.6 1061.5,1967.8 1064.2,1966.8 1067,1969.4 1069.8,1973.9 1072.5,1976.6 1075.2,1992.9 1078,1995.1 1080.8,1991 1083.5,1988 1086.2,1984.5 1089,1983.7 1091.8,1981.3 1094.5,1980.7 1097.2,1980.2 1100,1980.9 1102.8,1983.7 1105.5,1982.4 1108.2,1980.4 1111,1973.7 1113.8,1969 1116.5,1960.9 1119.2,1959.6 1122,1958 1124.8,1954.8 1127.5,1955.2 1130.2,1952.3 1133,1951.5 1135.8,1949.8 1138.5,1953.8 1141.2,1953.9 1144,1954.6 1146.8,1955.9" fill="none" stroke="#1f77b4" stroke-width="2.55" stroke-linejoin="round" marker-start="url(#mb)" marker-mid="url(#mb)" marker-end="url(#mb)"/>
<polyline points="118.2,2105 121,2105.3 123.8,2105.9 126.5,2106.1 129.2,2109.1 132,2108.4 134.8,2108.4 137.5,2108.6 140.2,2107.4 143,2106.1 145.8,2104.5 148.5,2099.3 151.2,2093.9 154,2091.2 156.8,2093.5 159.5,2096 162.2,2096.1 165,2095.4 167.8,2098.2 170.5,2099.7 173.2,2102.5 176,2103.7 178.8,2104 181.5,2105.8 184.2,2112.2 187,2110 189.8,2112.4 192.5,2109.6 195.2,2108 198,2107.5 200.8,2107.3 203.5,2100.3 206.2,2098.4 209,2097.8 211.8,2093.2 214.5,2076 217.2,2073.1 220,2072.1 222.8,2070.1 225.5,2070.8 228.2,2072.3 231,2070.6 233.8,2068.1 236.5,2068.1 239.2,2065.8 242,2067.2 244.8,2063.7 247.5,2061.3 250.2,2059.8 253,2059.6 255.8,2054.6 258.5,2052 261.2,2040.7 264,2038.2 266.8,2042.5 269.5,2036.5 272.2,2040.8 275,2038.8 277.8,2041.6 280.5,2041.3 283.2,2041.1 286,2041.2 288.8,2039.8 291.5,2035.4 294.2,2034.2 297,2035.7 299.8,2033.1 302.5,2032.3 305.2,2028.3 308,2029.4 310.8,2029.1 313.5,2028.8 316.2,2027.8 319,2025.8 321.8,2023.4 324.5,2017.2 327.2,2012.4 330,2011.2 332.8,2010.4 335.5,2004.3 338.2,2005.1 341,2003.4 343.8,2002.4 346.5,2004.8 349.2,2008.6 352,2015.2 354.8,2014.1 357.5,2013.9 360.2,2015.7 363,2012.5 365.8,2017.4 368.5,2014.6 371.2,2018.6 374,2014.8 376.8,2009.6 379.5,2004.8 382.2,2005.8 385,2004.5 387.8,2006.1 390.5,2005.6 393.2,2002 396,2002.2 398.8,1996.5 401.5,2000 404.2,2003.2 407,2001.7 409.8,2005.1 412.5,2004.8 415.2,2005 418,2007.2 420.8,2004 423.5,2000.1 426.2,1993.1 429,1986.2 431.8,1976.5 434.5,1973.1 437.2,1972.7 440,1971.3 442.8,1975.1 445.5,1978.6 448.2,1978.9 451,1977.4 453.8,1983.4 456.5,1983.6 459.2,1984.9 462,1991.9 464.8,1995.5 467.5,1998.6 470.2,2003 473,2009.3 475.8,2004.9 478.5,2006.2 481.2,2005 484,2004.5 486.8,2004.6 489.5,2003.4 492.2,2003.1 495,2003.3 497.8,2007.3 500.5,2003.7 503.2,2001.1 506,2000.1 508.8,1991.8 511.5,1987.5 514.2,1979.2 517,1976.8 519.8,1969.3 522.5,1964.6 525.2,1956.8 528,1952.3 530.8,1951.4 533.5,1950.1 536.2,1944.2 539,1941.8 541.8,1936 544.5,1936.9 547.2,1933.2 550,1928.2 552.8,1926.9 555.5,1923.2 558.2,1923.8 561,1914.5 563.8,1901 566.5,1893 569.2,1887.7 572,1883.7 574.8,1882.9 577.5,1878.6 580.2,1872.2 583,1861.2 585.8,1855.9 588.5,1844.2 591.2,1832.6 594,1826.8 596.8,1826.3 599.5,1823.6 602.2,1820.4 605,1819.8 607.8,1829.7 610.5,1839.2 613.2,1852.2 616,1864 618.8,1874.3 621.5,1882.3 624.2,1880.3 627,1879 629.8,1876.4 632.5,1871.5 635.2,1869.1 638,1867 640.8,1864.9 643.5,1866.6 646.2,1866.1 649,1868.3 651.8,1873.5 654.5,1875.4 657.2,1883.2 660,1893.5 662.8,1894.3 665.5,1893.7 668.2,1890.9 671,1888.5 673.8,1885.8 676.5,1877 679.2,1872.9 682,1873.2 684.8,1882.2 687.5,1899.6 690.2,1915.7 693,1918.9 695.8,1916.7 698.5,1912.5 701.2,1914.7 704,1913.4 706.8,1912.4 709.5,1909.5 712.2,1910.7 715,1906.2 717.8,1905 720.5,1902.9 723.2,1900.1 726,1902.4 728.8,1899.8 731.5,1900.5 734.2,1913.2 737,1922.8 739.8,1924 742.5,1921.3 745.2,1920.7 748,1920.4 750.8,1923.3 753.5,1928.4 756.2,1932 759,1932.1 761.8,1935 764.5,1934.8 767.2,1932.7 770,1931.5 772.8,1933.5 775.5,1933.2 778.2,1928.8 781,1924.6 783.8,1922.7 786.5,1916.9 789.2,1899.6 792,1871.3 794.8,1855 797.5,1843.8 800.2,1841.7 803,1842.1 805.8,1840.7 808.5,1837.8 811.2,1841.3 814,1842.1 816.8,1844.7 819.5,1843.5 822.2,1844.6 825,1843.8 827.8,1841.2 830.5,1841.8 833.2,1839.9 836,1841.7 838.8,1845.4 841.5,1850.9 844.2,1854 847,1860.5 849.8,1867.4 852.5,1870.4 855.2,1875.2 858,1873.1 860.8,1869.5 863.5,1869.7 866.2,1863.7 869,1868.7 871.8,1869.5 874.5,1869.3 877.2,1873.2 880,1873.3 882.8,1878.6 885.5,1883 888.2,1881.7 891,1883.3 893.8,1883.8 896.5,1887.1 899.2,1886.5 902,1891 904.8,1888.6 907.5,1891.1 910.2,1899.6 913,1909.9 915.8,1920.8 918.5,1923.9 921.2,1928 924,1926.7 926.8,1926.3 929.5,1920.9 932.2,1922.3 935,1918.3 937.8,1912 940.5,1909.7 943.2,1898.6 946,1886.2 948.8,1881.9 951.5,1880.6 954.2,1878.9 957,1875.5 959.8,1875.3 962.5,1875.2 965.2,1877.8 968,1882.8 970.8,1888.5 973.5,1896.5 976.2,1900.4 979,1899 981.8,1896.8 984.5,1896 987.2,1902.1 990,1907.7 992.8,1914.6 995.5,1928.3 998.2,1940.4 1001,1953.5 1003.8,2003.8 1006.5,1979.1 1009.2,1976.2 1012,1974.9 1014.8,1974.1 1017.5,1972.3 1020.2,1971 1023,1968.3 1025.8,1970.2 1028.5,1967 1031.2,1969.9 1034,1971.2 1036.8,1972.8 1039.5,1969.2 1042.2,1971 1045,1971.6 1047.8,1966.3 1050.5,1963 1053.2,1962.4 1056,1959.7 1058.8,1967.7 1061.5,1972.8 1064.2,1978.5 1067,1980.5 1069.8,1980 1072.5,1981.6 1075.2,1985.1 1078,1985.4 1080.8,1985.1 1083.5,1991.1 1086.2,1994.7 1089,1995.6 1091.8,1999.5 1094.5,2001.8 1097.2,1999.6 1100,2000.2 1102.8,1995.4 1105.5,1994.7 1108.2,1992.7 1111,1992.1 1113.8,1997.7 1116.5,1999.1 1119.2,2000.5 1122,1998.8 1124.8,1991 1127.5,1985.2 1130.2,1983.7 1133,1974.4 1135.8,1971 1138.5,1969.3 1141.2,1968.8 1144,1966.4 1146.8,1967.3" fill="none" stroke="#ff7f0e" stroke-width="2.55" stroke-dasharray="9.44 4.08" stroke-linejoin="round" marker-start="url(#mo)" marker-mid="url(#mo)" marker-end="url(#mo)"/>
<polyline points="118.2,2088.5 121,2089.4 123.8,2088.6 126.5,2091.1 129.2,2090.3 132,2085.6 134.8,2089.9 137.5,2087 140.2,2081.6 143,2078.5 145.8,2078.3 148.5,2078.6 151.2,2079.9 154,2075.2 156.8,2079.2 159.5,2080.3 162.2,2080.8 165,2080.6 167.8,2085.9 170.5,2086.8 173.2,2083.4 176,2084.7 178.8,2088.1 181.5,2091.7 184.2,2093 187,2093.4 189.8,2091.8 192.5,2093.8 195.2,2086.5 198,2085.5 200.8,2087.6 203.5,2085 206.2,2083.2 209,2081.8 211.8,2070.6 214.5,2066.9 217.2,2064.5 220,2063.8 222.8,2063.1 225.5,2065.1 228.2,2062.3 231,2065.9 233.8,2062.5 236.5,2063.8 239.2,2064.2 242,2062.2 244.8,2056.7 247.5,2054.6 250.2,2057.2 253,2057.9 255.8,2053 258.5,2047 261.2,2040.3 264,2033.5 266.8,2035.3 269.5,2031.5 272.2,2032.2 275,2039 277.8,2038.7 280.5,2043.9 283.2,2041.7 286,2040.9 288.8,2040.6 291.5,2038.8 294.2,2038.4 297,2036.4 299.8,2032.4 302.5,2030.5 305.2,2030.1 308,2029.7 310.8,2030 313.5,2032.1 316.2,2029.5 319,2030.9 321.8,2028.4 324.5,2023.3 327.2,2015.2 330,2014.9 332.8,2011.7 335.5,2009.1 338.2,2009.8 341,2007.6 343.8,2005.8 346.5,2009.9 349.2,2015.5 352,2015.5 354.8,2020.3 357.5,2017.3 360.2,2021.2 363,2017.2 365.8,2022 368.5,2017 371.2,2018.1 374,2018.5 376.8,2012.6 379.5,2006.9 382.2,2007.4 385,2004.8 387.8,2008.5 390.5,2008.3 393.2,2007.8 396,2005.1 398.8,2004 401.5,2000.9 404.2,2003.5 407,2012.2 409.8,2006.2 412.5,2012.7 415.2,2015.3 418,2012.7 420.8,2009.7 423.5,2002.6 426.2,1995.3 429,1991 431.8,1985 434.5,1978.7 437.2,1978.7 440,1977.4 442.8,1980.6 445.5,1986.1 448.2,1982.9 451,1988.6 453.8,1990.2 456.5,1990.3 459.2,1993.6 462,1999.8 464.8,2000.8 467.5,2004.9 470.2,2012.9 473,2019.6 475.8,2015.6 478.5,2016.3 481.2,2011.1 484,2011.1 486.8,2010.4 489.5,2010.4 492.2,2012.1 495,2012.4 497.8,2011.5 500.5,2010.2 503.2,2005.6 506,2000.7 508.8,1996.1 511.5,1989.9 514.2,1983.3 517,1978 519.8,1970.8 522.5,1971.3 525.2,1961.9 528,1956.6 530.8,1955.7 533.5,1959.6 536.2,1959.3 539,1949.9 541.8,1942.3 544.5,1941.5 547.2,1936.6 550,1934.4 552.8,1932.9 555.5,1928.3 558.2,1930 561,1919.5 563.8,1902.8 566.5,1897.1 569.2,1895.8 572,1889.6 574.8,1887 577.5,1883.8 580.2,1879.9 583,1866.6 585.8,1859.9 588.5,1849.8 591.2,1836.2 594,1842.1 596.8,1831.5 599.5,1829.8 602.2,1825.5 605,1823.7 607.8,1830.4 610.5,1847.9 613.2,1859 616,1870.7 618.8,1885.1 621.5,1886.9 624.2,1884.6 627,1883.4 629.8,1880.1 632.5,1880.4 635.2,1878 638,1875.3 640.8,1869.2 643.5,1869.7 646.2,1868 649,1872.2 651.8,1874.7 654.5,1875.8 657.2,1882.5 660,1890.8 662.8,1893.5 665.5,1893.3 668.2,1887.1 671,1888.5 673.8,1881.5 676.5,1875.1 679.2,1873.3 682,1874.3 684.8,1885.4 687.5,1903.2 690.2,1919.2 693,1915.6 695.8,1916.6 698.5,1916.1 701.2,1917.8 704,1914 706.8,1913.6 709.5,1915 712.2,1914.3 715,1912.7 717.8,1913.5 720.5,1909 723.2,1911.8 726,1907.1 728.8,1903.5 731.5,1906.6 734.2,1916.3 737,1929.9 739.8,1927.2 742.5,1923.3 745.2,1920.2 748,1919.9 750.8,1929 753.5,1929.9 756.2,1932.1 759,1933.1 761.8,1937.8 764.5,1934.2 767.2,1935.2 770,1939.1 772.8,1936.1 775.5,1936.6 778.2,1933.1 781,1932.4 783.8,1923.5 786.5,1923.7 789.2,1905.3 792,1875 794.8,1855.7 797.5,1847.3 800.2,1844 803,1847.7 805.8,1842 808.5,1850.5 811.2,1851.5 814,1853.2 816.8,1856.7 819.5,1858.1 822.2,1860.7 825,1857.8 827.8,1854.7 830.5,1853.6 833.2,1854.6 836,1852.4 838.8,1852.8 841.5,1855.3 844.2,1860.7 847,1864.1 849.8,1871.8 852.5,1878.8 855.2,1879.8 858,1877.6 860.8,1877.2 863.5,1871.4 866.2,1874.2 869,1874.1 871.8,1875.3 874.5,1881 877.2,1884.1 880,1884.8 882.8,1884.5 885.5,1893.1 888.2,1892.2 891,1895.6 893.8,1895.5 896.5,1894.8 899.2,1893.9 902,1895.2 904.8,1895.4 907.5,1896.8 910.2,1900.8 913,1914.5 915.8,1918.1 918.5,1920.3 921.2,1924.8 924,1926.2 926.8,1923.8 929.5,1921.3 932.2,1921.6 935,1919.8 937.8,1916.5 940.5,1918.7 943.2,1907.1 946,1896 948.8,1894.4 951.5,1887.9 954.2,1885.5 957,1880.1 959.8,1882 962.5,1881.9 965.2,1885.8 968,1888.7 970.8,1893.1 973.5,1900.4 976.2,1904 979,1901.8 981.8,1901.2 984.5,1901.8 987.2,1905.4 990,1913.2 992.8,1919.8 995.5,1933.5 998.2,1941.8 1001,1960.8 1003.8,1990.6 1006.5,1986.5 1009.2,1991.6 1012,1979.8 1014.8,1977.2 1017.5,1977.7 1020.2,1975.6 1023,1973.3 1025.8,1972.2 1028.5,1969.9 1031.2,1970.1 1034,1972.3 1036.8,1970.5 1039.5,1975.2 1042.2,1973.9 1045,1975.3 1047.8,1970.7 1050.5,1973 1053.2,1971 1056,1966.6 1058.8,1974 1061.5,1980.5 1064.2,1989.1 1067,1990.1 1069.8,1989.2 1072.5,1991.9 1075.2,1989.9 1078,1992.1 1080.8,1988.8 1083.5,1992.6 1086.2,1997.3 1089,2000.4 1091.8,2004.2 1094.5,2008.2 1097.2,2006.7 1100,2003.2 1102.8,2000.8 1105.5,1999.5 1108.2,1999.5 1111,2000.3 1113.8,2000.4 1116.5,2003.4 1119.2,2003.5 1122,2002.1 1124.8,1996.1 1127.5,1987.9 1130.2,1986.7 1133,1977.9 1135.8,1977.7 1138.5,1976.6 1141.2,1973 1144,1972.2 1146.8,1971.7" fill="none" stroke="#2ca02c" stroke-width="2.55" stroke-dasharray="9.44 4.08" stroke-linejoin="round" marker-start="url(#mg)" marker-mid="url(#mg)" marker-end="url(#mg)"/>
<polyline points="118.2,2087 121,2084.7 123.8,2089.5 126.5,2088.1 129.2,2087.3 132,2087.8 134.8,2087.2 137.5,2087.6 140.2,2086.9 143,2085 145.8,2085.3 148.5,2083.5 151.2,2079.1 154,2080.7 156.8,2080.2 159.5,2080.6 162.2,2083 165,2087.1 167.8,2088.3 170.5,2088 173.2,2091.3 176,2091.1 178.8,2091.3 181.5,2093.5 184.2,2094.7 187,2095.5 189.8,2095.4 192.5,2095.9 195.2,2093.3 198,2091.3 200.8,2088.9 203.5,2091.9 206.2,2090.8 209,2086.1 211.8,2077.5 214.5,2075.3 217.2,2068.4 220,2067.3 222.8,2066.2 225.5,2065.4 228.2,2066.1 231,2065.2 233.8,2063.1 236.5,2062.2 239.2,2062.8 242,2059.2 244.8,2056 247.5,2059.2 250.2,2055.9 253,2052 255.8,2052.6 258.5,2046.5 261.2,2034 264,2030 266.8,2033.3 269.5,2035.1 272.2,2033.5 275,2034.8 277.8,2037.5 280.5,2039.7 283.2,2039.1 286,2036.3 288.8,2038.2 291.5,2033.9 294.2,2035.5 297,2030.8 299.8,2029.1 302.5,2028.4 305.2,2030.1 308,2031.3 310.8,2028.6 313.5,2031.6 316.2,2029 319,2024.6 321.8,2020.9 324.5,2016.2 327.2,2012.3 330,2005.7 332.8,2000.9 335.5,2002.8 338.2,1997.1 341,1992.9 343.8,1996.6 346.5,1998.5 349.2,2004.2 352,2008.9 354.8,2009.6 357.5,2008.9 360.2,2010.2 363,2009.6 365.8,2012.9 368.5,2012 371.2,2014.2 374,2008.6 376.8,2004.1 379.5,2003.1 382.2,1999.1 385,2001.9 387.8,2005.5 390.5,2006.2 393.2,2002.3 396,2001.7 398.8,1996.5 401.5,2000.7 404.2,2003 407,2004.3 409.8,2007 412.5,2006.3 415.2,2006.9 418,2005.9 420.8,2005.8 423.5,1995.4 426.2,1992.2 429,1983.5 431.8,1980.2 434.5,1970.2 437.2,1971.8 440,1974.6 442.8,1975.2 445.5,1978.6 448.2,1978.8 451,1982.4 453.8,1981 456.5,1984.4 459.2,1984.3 462,1988.9 464.8,1995.4 467.5,1999.7 470.2,2003.8 473,2005.5 475.8,2003 478.5,2005.7 481.2,2004 484,2001.8 486.8,2000.1 489.5,2001.7 492.2,2002 495,2000.2 497.8,2003.1 500.5,2002.5 503.2,1998.2 506,1992.5 508.8,1991.4 511.5,1983.5 514.2,1978.9 517,1974.8 519.8,1968.2 522.5,1963.2 525.2,1960.8 528,1958.1 530.8,1955.6 533.5,1951.1 536.2,1943.8 539,1944.1 541.8,1938.2 544.5,1935.3 547.2,1930.7 550,1928.5 552.8,1923 555.5,1922.5 558.2,1918.3 561,1907 563.8,1894.2 566.5,1888.8 569.2,1886.1 572,1884.2 574.8,1880 577.5,1874.4 580.2,1866.9 583,1858.9 585.8,1851.7 588.5,1839.3 591.2,1829.4 594,1829 596.8,1825.5 599.5,1823.2 602.2,1816 605,1814.7 607.8,1825.4 610.5,1837 613.2,1851.5 616,1862.9 618.8,1874.4 621.5,1883.4 624.2,1881.4 627,1876.9 629.8,1873.7 632.5,1874.8 635.2,1870.8 638,1866.7 640.8,1864.2 643.5,1860.5 646.2,1864.7 649,1867.4 651.8,1865.3 654.5,1868.7 657.2,1880.7 660,1888.2 662.8,1892.6 665.5,1890 668.2,1888 671,1886.1 673.8,1879.7 676.5,1874.4 679.2,1869.1 682,1870.4 684.8,1881.5 687.5,1896.4 690.2,1915.8 693,1913.2 695.8,1909.7 698.5,1911.6 701.2,1911.4 704,1910.2 706.8,1907.7 709.5,1908.5 712.2,1908.6 715,1909.2 717.8,1907.4 720.5,1905.4 723.2,1903.1 726,1900.1 728.8,1900.3 731.5,1904.2 734.2,1909.8 737,1923.7 739.8,1921.4 742.5,1917.9 745.2,1916 748,1917.8 750.8,1920.3 753.5,1923.6 756.2,1925.6 759,1928.1 761.8,1930.1 764.5,1931.3 767.2,1932.5 770,1928 772.8,1932 775.5,1928.6 778.2,1927.6 781,1920 783.8,1917.9 786.5,1912.4 789.2,1894.4 792,1870.8 794.8,1848.2 797.5,1839 800.2,1840.5 803,1838.7 805.8,1840.5 808.5,1837.3 811.2,1842.1 814,1842.7 816.8,1845 819.5,1847.3 822.2,1845.4 825,1841.3 827.8,1843.6 830.5,1840.9 833.2,1841 836,1838.2 838.8,1842.5 841.5,1844.4 844.2,1851.5 847,1855.5 849.8,1857.9 852.5,1866.9 855.2,1868.4 858,1869.3 860.8,1865.3 863.5,1863.6 866.2,1859.4 869,1863.8 871.8,1866.5 874.5,1867.1 877.2,1870.2 880,1875.6 882.8,1877.7 885.5,1882.9 888.2,1881.9 891,1882.6 893.8,1883.7 896.5,1884.6 899.2,1884.2 902,1884.5 904.8,1883.3 907.5,1884.5 910.2,1889.3 913,1898.6 915.8,1915 918.5,1919.6 921.2,1922.1 924,1925.7 926.8,1921.6 929.5,1919.6 932.2,1915.8 935,1916.3 937.8,1909.8 940.5,1909.5 943.2,1897.9 946,1885.6 948.8,1884.7 951.5,1880 954.2,1880.9 957,1876.5 959.8,1879.6 962.5,1881.9 965.2,1879.8 968,1885.6 970.8,1890.8 973.5,1898 976.2,1902.1 979,1897.6 981.8,1900.4 984.5,1895.1 987.2,1903.2 990,1904.7 992.8,1911.5 995.5,1921.6 998.2,1933.2 1001,1950.1 1003.8,1977 1006.5,1977.3 1009.2,1970.5 1012,1967.3 1014.8,1967.2 1017.5,1967.2 1020.2,1967.2 1023,1967.9 1025.8,1965.9 1028.5,1964.6 1031.2,1965 1034,1964 1036.8,1966 1039.5,1970.8 1042.2,1970.5 1045,1969.8 1047.8,1965.8 1050.5,1961.7 1053.2,1962.9 1056,1958.9 1058.8,1963.1 1061.5,1970.1 1064.2,1977.4 1067,1978.5 1069.8,1977.2 1072.5,1982 1075.2,1982.3 1078,1981 1080.8,1983.2 1083.5,1987.1 1086.2,1988.8 1089,1990.6 1091.8,1998.9 1094.5,1998.1 1097.2,1998.2 1100,1997.1 1102.8,1992.4 1105.5,1990.1 1108.2,1991.4 1111,1991.2 1113.8,1992.5 1116.5,1997 1119.2,1998.6 1122,1995.5 1124.8,1991.6 1127.5,1982.9 1130.2,1979 1133,1974.3 1135.8,1971.6 1138.5,1967.9 1141.2,1968.5 1144,1969.1 1146.8,1969.6" fill="none" stroke="#d62728" stroke-width="2.55" stroke-dasharray="9.44 4.08" stroke-linejoin="round" marker-start="url(#mr)" marker-mid="url(#mr)" marker-end="url(#mr)"/>
<rect x="66.7" y="1786.5" width="1131.3" height="340.5" fill="none" stroke="#1a1a1a" stroke-width="1.36"/>
<text x="118.2" y="2152" font-size="18.0" text-anchor="middle" textLength="10.8" lengthAdjust="spacingAndGlyphs">0</text>
<text x="255.8" y="2152" font-size="18.0" text-anchor="middle" textLength="21.6" lengthAdjust="spacingAndGlyphs">50</text>
<text x="393.2" y="2152" font-size="18.0" text-anchor="middle" textLength="32.4" lengthAdjust="spacingAndGlyphs">100</text>
<text x="530.8" y="2152" font-size="18.0" text-anchor="middle" textLength="32.4" lengthAdjust="spacingAndGlyphs">150</text>
<text x="668.2" y="2152" font-size="18.0" text-anchor="middle" textLength="32.4" lengthAdjust="spacingAndGlyphs">200</text>
<text x="805.8" y="2152" font-size="18.0" text-anchor="middle" textLength="32.4" lengthAdjust="spacingAndGlyphs">250</text>
<text x="943.2" y="2152" font-size="18.0" text-anchor="middle" textLength="32.4" lengthAdjust="spacingAndGlyphs">300</text>
<text x="1080.8" y="2152" font-size="18.0" text-anchor="middle" textLength="32.4" lengthAdjust="spacingAndGlyphs">350</text>
<text x="54.8" y="1831.2" font-size="18.0" text-anchor="end" textLength="27.0" lengthAdjust="spacingAndGlyphs">0.8</text>
<text x="54.8" y="1882.6" font-size="18.0" text-anchor="end" textLength="27.0" lengthAdjust="spacingAndGlyphs">0.7</text>
<text x="54.8" y="1934" font-size="18.0" text-anchor="end" textLength="27.0" lengthAdjust="spacingAndGlyphs">0.6</text>
<text x="54.8" y="1985.4" font-size="18.0" text-anchor="end" textLength="27.0" lengthAdjust="spacingAndGlyphs">0.5</text>
<text x="54.8" y="2036.8" font-size="18.0" text-anchor="end" textLength="27.0" lengthAdjust="spacingAndGlyphs">0.4</text>
<text x="54.8" y="2088.2" font-size="18.0" text-anchor="end" textLength="27.0" lengthAdjust="spacingAndGlyphs">0.3</text>
<path d="M118.2,2127v5.95M255.8,2127v5.95M393.2,2127v5.95M530.8,2127v5.95M668.2,2127v5.95M805.8,2127v5.95M943.2,2127v5.95M1080.8,2127v5.95M66.7,1824.5h-5.95M66.7,1875.9h-5.95M66.7,1927.3h-5.95M66.7,1978.7h-5.95M66.7,2030.1h-5.95M66.7,2081.5h-5.95" stroke="#1a1a1a" stroke-width="1.36" fill="none"/>
<text x="632.4" y="2176" font-size="17.8" text-anchor="middle" textLength="94.6" lengthAdjust="spacingAndGlyphs">Time Steps</text>
<text x="16" y="1956.8" font-size="17.8" text-anchor="middle" textLength="55.5" lengthAdjust="spacingAndGlyphs" transform="rotate(-90 16 1956.8)">Values</text>
<rect x="75.5" y="1795.2" width="386.3" height="108.4" rx="3.4" fill="#fff" fill-opacity="0.8" stroke="#d9d9d9" stroke-width="1.7"/>
<path d="M82.3,1809.2H116.3" stroke="#1f77b4" stroke-width="2.55" stroke-linecap="square"/>
<circle cx="99.3" cy="1809.2" r="5.6" fill="#1f77b4"/>
<text x="129.6" y="1815.5" font-size="17.8" textLength="97.1" lengthAdjust="spacingAndGlyphs">True Values</text>
<path d="M82.3,1834.9H116.3" stroke="#ff7f0e" stroke-width="2.55" stroke-dasharray="9.44 4.08"/>
<path d="M94.2,1829.8l10.2,10.2m0,-10.2l-10.2,10.2" stroke="#ff7f0e" stroke-width="1.7"/>
<text x="129.6" y="1840.9" font-size="17.8" textLength="322.8" lengthAdjust="spacingAndGlyphs">Hybrid (1D-CNN + LSTM) - Predictions</text>
<path d="M82.3,1860.9H116.3" stroke="#2ca02c" stroke-width="2.55" stroke-dasharray="9.44 4.08"/>
<path d="M94.2,1855.8l10.2,10.2m0,-10.2l-10.2,10.2" stroke="#2ca02c" stroke-width="1.7"/>
<text x="129.6" y="1866.9" font-size="17.8" textLength="255.1" lengthAdjust="spacingAndGlyphs">1D-CNN Baseline - Predictions</text>
<path d="M82.3,1886.5H116.3" stroke="#d62728" stroke-width="2.55" stroke-dasharray="9.44 4.08"/>
<path d="M94.2,1881.4l10.2,10.2m0,-10.2l-10.2,10.2" stroke="#d62728" stroke-width="1.7"/>
<text x="129.6" y="1892.5" font-size="17.8" textLength="233.0" lengthAdjust="spacingAndGlyphs">LSTM Baseline - Predictions</text>
</g>
</svg>
</body></html>
